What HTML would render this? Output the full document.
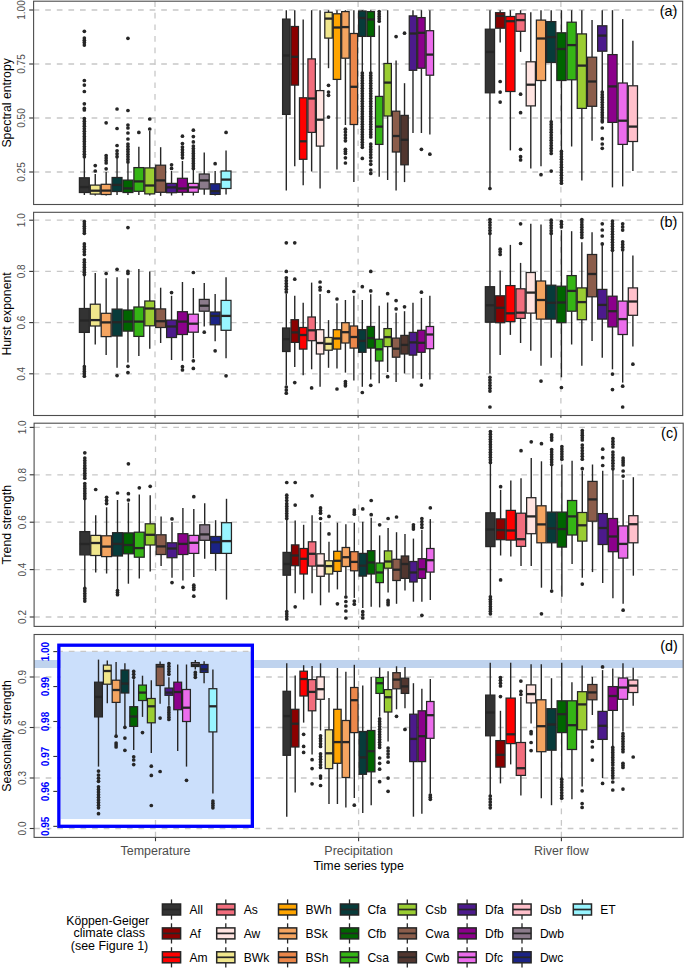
<!DOCTYPE html>
<html><head><meta charset="utf-8"><style>
html,body{margin:0;padding:0;background:#fff;width:685px;height:968px;overflow:hidden;font-family:"Liberation Sans",sans-serif;}
svg{display:block;}
</style></head><body>
<svg width="685" height="968" viewBox="0 0 685 968" font-family="'Liberation Sans', sans-serif">
<rect width="685" height="968" fill="#ffffff"/>
<line x1="33.6" y1="10" x2="682.6" y2="10" stroke="#c8c8c8" stroke-width="1.3" stroke-dasharray="5.7 5.9"/>
<line x1="33.6" y1="64" x2="682.6" y2="64" stroke="#c8c8c8" stroke-width="1.3" stroke-dasharray="5.7 5.9"/>
<line x1="33.6" y1="118" x2="682.6" y2="118" stroke="#c8c8c8" stroke-width="1.3" stroke-dasharray="5.7 5.9"/>
<line x1="33.6" y1="172" x2="682.6" y2="172" stroke="#c8c8c8" stroke-width="1.3" stroke-dasharray="5.7 5.9"/>
<line x1="155" y1="1.2" x2="155" y2="204.5" stroke="#c8c8c8" stroke-width="1.3" stroke-dasharray="5.7 5.9"/>
<line x1="358.1" y1="1.2" x2="358.1" y2="204.5" stroke="#c8c8c8" stroke-width="1.3" stroke-dasharray="5.7 5.9"/>
<line x1="560.9" y1="1.2" x2="560.9" y2="204.5" stroke="#c8c8c8" stroke-width="1.3" stroke-dasharray="5.7 5.9"/>
<line x1="29.2" y1="10" x2="33.6" y2="10" stroke="#333333" stroke-width="1.1"/>
<text transform="translate(25.3 10) rotate(-90)" text-anchor="middle" font-size="10" fill="#4d4d4d">1.00</text>
<line x1="29.2" y1="64" x2="33.6" y2="64" stroke="#333333" stroke-width="1.1"/>
<text transform="translate(25.3 64) rotate(-90)" text-anchor="middle" font-size="10" fill="#4d4d4d">0.75</text>
<line x1="29.2" y1="118" x2="33.6" y2="118" stroke="#333333" stroke-width="1.1"/>
<text transform="translate(25.3 118) rotate(-90)" text-anchor="middle" font-size="10" fill="#4d4d4d">0.50</text>
<line x1="29.2" y1="172" x2="33.6" y2="172" stroke="#333333" stroke-width="1.1"/>
<text transform="translate(25.3 172) rotate(-90)" text-anchor="middle" font-size="10" fill="#4d4d4d">0.25</text>
<line x1="155" y1="204.5" x2="155" y2="206.7" stroke="#333333" stroke-width="1.1"/>
<line x1="358.1" y1="204.5" x2="358.1" y2="206.7" stroke="#333333" stroke-width="1.1"/>
<line x1="560.9" y1="204.5" x2="560.9" y2="206.7" stroke="#333333" stroke-width="1.1"/>
<text transform="translate(10.8 102.85) rotate(-90)" text-anchor="middle" font-size="12.3" fill="#000000">Spectral entropy</text>
<line x1="33.6" y1="220.2" x2="682.6" y2="220.2" stroke="#c8c8c8" stroke-width="1.3" stroke-dasharray="5.7 5.9"/>
<line x1="33.6" y1="271.4" x2="682.6" y2="271.4" stroke="#c8c8c8" stroke-width="1.3" stroke-dasharray="5.7 5.9"/>
<line x1="33.6" y1="322.6" x2="682.6" y2="322.6" stroke="#c8c8c8" stroke-width="1.3" stroke-dasharray="5.7 5.9"/>
<line x1="33.6" y1="373.8" x2="682.6" y2="373.8" stroke="#c8c8c8" stroke-width="1.3" stroke-dasharray="5.7 5.9"/>
<line x1="155" y1="212.3" x2="155" y2="415.5" stroke="#c8c8c8" stroke-width="1.3" stroke-dasharray="5.7 5.9"/>
<line x1="358.1" y1="212.3" x2="358.1" y2="415.5" stroke="#c8c8c8" stroke-width="1.3" stroke-dasharray="5.7 5.9"/>
<line x1="560.9" y1="212.3" x2="560.9" y2="415.5" stroke="#c8c8c8" stroke-width="1.3" stroke-dasharray="5.7 5.9"/>
<line x1="29.2" y1="220.2" x2="33.6" y2="220.2" stroke="#333333" stroke-width="1.1"/>
<text transform="translate(25.3 220.2) rotate(-90)" text-anchor="middle" font-size="10" fill="#4d4d4d">1.0</text>
<line x1="29.2" y1="271.4" x2="33.6" y2="271.4" stroke="#333333" stroke-width="1.1"/>
<text transform="translate(25.3 271.4) rotate(-90)" text-anchor="middle" font-size="10" fill="#4d4d4d">0.8</text>
<line x1="29.2" y1="322.6" x2="33.6" y2="322.6" stroke="#333333" stroke-width="1.1"/>
<text transform="translate(25.3 322.6) rotate(-90)" text-anchor="middle" font-size="10" fill="#4d4d4d">0.6</text>
<line x1="29.2" y1="373.8" x2="33.6" y2="373.8" stroke="#333333" stroke-width="1.1"/>
<text transform="translate(25.3 373.8) rotate(-90)" text-anchor="middle" font-size="10" fill="#4d4d4d">0.4</text>
<line x1="155" y1="415.5" x2="155" y2="417.7" stroke="#333333" stroke-width="1.1"/>
<line x1="358.1" y1="415.5" x2="358.1" y2="417.7" stroke="#333333" stroke-width="1.1"/>
<line x1="560.9" y1="415.5" x2="560.9" y2="417.7" stroke="#333333" stroke-width="1.1"/>
<text transform="translate(10.8 313.9) rotate(-90)" text-anchor="middle" font-size="12.3" fill="#000000">Hurst exponent</text>
<line x1="34.1" y1="427.4" x2="683.1" y2="427.4" stroke="#c8c8c8" stroke-width="1.3" stroke-dasharray="5.7 5.9"/>
<line x1="34.1" y1="474.8" x2="683.1" y2="474.8" stroke="#c8c8c8" stroke-width="1.3" stroke-dasharray="5.7 5.9"/>
<line x1="34.1" y1="522.2" x2="683.1" y2="522.2" stroke="#c8c8c8" stroke-width="1.3" stroke-dasharray="5.7 5.9"/>
<line x1="34.1" y1="569.6" x2="683.1" y2="569.6" stroke="#c8c8c8" stroke-width="1.3" stroke-dasharray="5.7 5.9"/>
<line x1="34.1" y1="617" x2="683.1" y2="617" stroke="#c8c8c8" stroke-width="1.3" stroke-dasharray="5.7 5.9"/>
<line x1="155.5" y1="423.2" x2="155.5" y2="626.4" stroke="#c8c8c8" stroke-width="1.3" stroke-dasharray="5.7 5.9"/>
<line x1="358.6" y1="423.2" x2="358.6" y2="626.4" stroke="#c8c8c8" stroke-width="1.3" stroke-dasharray="5.7 5.9"/>
<line x1="561.4" y1="423.2" x2="561.4" y2="626.4" stroke="#c8c8c8" stroke-width="1.3" stroke-dasharray="5.7 5.9"/>
<line x1="29.7" y1="427.4" x2="34.1" y2="427.4" stroke="#333333" stroke-width="1.1"/>
<text transform="translate(25.8 427.4) rotate(-90)" text-anchor="middle" font-size="10" fill="#4d4d4d">1.0</text>
<line x1="29.7" y1="474.8" x2="34.1" y2="474.8" stroke="#333333" stroke-width="1.1"/>
<text transform="translate(25.8 474.8) rotate(-90)" text-anchor="middle" font-size="10" fill="#4d4d4d">0.8</text>
<line x1="29.7" y1="522.2" x2="34.1" y2="522.2" stroke="#333333" stroke-width="1.1"/>
<text transform="translate(25.8 522.2) rotate(-90)" text-anchor="middle" font-size="10" fill="#4d4d4d">0.6</text>
<line x1="29.7" y1="569.6" x2="34.1" y2="569.6" stroke="#333333" stroke-width="1.1"/>
<text transform="translate(25.8 569.6) rotate(-90)" text-anchor="middle" font-size="10" fill="#4d4d4d">0.4</text>
<line x1="29.7" y1="617" x2="34.1" y2="617" stroke="#333333" stroke-width="1.1"/>
<text transform="translate(25.8 617) rotate(-90)" text-anchor="middle" font-size="10" fill="#4d4d4d">0.2</text>
<line x1="155.5" y1="626.4" x2="155.5" y2="628.6" stroke="#333333" stroke-width="1.1"/>
<line x1="358.6" y1="626.4" x2="358.6" y2="628.6" stroke="#333333" stroke-width="1.1"/>
<line x1="561.4" y1="626.4" x2="561.4" y2="628.6" stroke="#333333" stroke-width="1.1"/>
<text transform="translate(10.8 524.8) rotate(-90)" text-anchor="middle" font-size="12.3" fill="#000000">Trend strength</text>
<line x1="34.1" y1="677" x2="683.1" y2="677" stroke="#c8c8c8" stroke-width="1.3" stroke-dasharray="5.7 5.9"/>
<line x1="34.1" y1="727.5" x2="683.1" y2="727.5" stroke="#c8c8c8" stroke-width="1.3" stroke-dasharray="5.7 5.9"/>
<line x1="34.1" y1="778" x2="683.1" y2="778" stroke="#c8c8c8" stroke-width="1.3" stroke-dasharray="5.7 5.9"/>
<line x1="34.1" y1="828.5" x2="683.1" y2="828.5" stroke="#c8c8c8" stroke-width="1.3" stroke-dasharray="5.7 5.9"/>
<line x1="155.5" y1="634.5" x2="155.5" y2="837.4" stroke="#c8c8c8" stroke-width="1.3" stroke-dasharray="5.7 5.9"/>
<line x1="358.6" y1="634.5" x2="358.6" y2="837.4" stroke="#c8c8c8" stroke-width="1.3" stroke-dasharray="5.7 5.9"/>
<line x1="561.4" y1="634.5" x2="561.4" y2="837.4" stroke="#c8c8c8" stroke-width="1.3" stroke-dasharray="5.7 5.9"/>
<rect x="34.1" y="660" width="649" height="8" fill="#bfd3ee"/>
<line x1="29.7" y1="677" x2="34.1" y2="677" stroke="#333333" stroke-width="1.1"/>
<text transform="translate(25.8 677) rotate(-90)" text-anchor="middle" font-size="10" fill="#4d4d4d">0.9</text>
<line x1="29.7" y1="727.5" x2="34.1" y2="727.5" stroke="#333333" stroke-width="1.1"/>
<text transform="translate(25.8 727.5) rotate(-90)" text-anchor="middle" font-size="10" fill="#4d4d4d">0.6</text>
<line x1="29.7" y1="778" x2="34.1" y2="778" stroke="#333333" stroke-width="1.1"/>
<text transform="translate(25.8 778) rotate(-90)" text-anchor="middle" font-size="10" fill="#4d4d4d">0.3</text>
<line x1="29.7" y1="828.5" x2="34.1" y2="828.5" stroke="#333333" stroke-width="1.1"/>
<text transform="translate(25.8 828.5) rotate(-90)" text-anchor="middle" font-size="10" fill="#4d4d4d">0.0</text>
<line x1="155.5" y1="837.4" x2="155.5" y2="841.2" stroke="#333333" stroke-width="1.1"/>
<line x1="358.6" y1="837.4" x2="358.6" y2="841.2" stroke="#333333" stroke-width="1.1"/>
<line x1="561.4" y1="837.4" x2="561.4" y2="841.2" stroke="#333333" stroke-width="1.1"/>
<text transform="translate(10.8 735.95) rotate(-90)" text-anchor="middle" font-size="12.3" fill="#000000">Seasonality strength</text>
<circle cx="84.35" cy="31.3" r="1.85" fill="#262626"/>
<circle cx="84.35" cy="38" r="1.85" fill="#262626"/>
<circle cx="84.35" cy="40.2" r="1.85" fill="#262626"/>
<circle cx="84.35" cy="42.4" r="1.85" fill="#262626"/>
<circle cx="84.35" cy="45.1" r="1.85" fill="#262626"/>
<circle cx="84.35" cy="80.5" r="1.85" fill="#262626"/>
<circle cx="84.35" cy="85.1" r="1.85" fill="#262626"/>
<circle cx="84.35" cy="91.5" r="1.85" fill="#262626"/>
<circle cx="84.35" cy="103.8" r="1.85" fill="#262626"/>
<circle cx="84.35" cy="108.4" r="1.85" fill="#262626"/>
<circle cx="84.35" cy="110" r="1.85" fill="#262626"/>
<circle cx="84.35" cy="118.6" r="1.85" fill="#262626"/>
<circle cx="84.35" cy="121.14" r="1.85" fill="#262626"/>
<circle cx="84.35" cy="123.68" r="1.85" fill="#262626"/>
<circle cx="84.35" cy="126.22" r="1.85" fill="#262626"/>
<circle cx="84.35" cy="128.76" r="1.85" fill="#262626"/>
<circle cx="84.35" cy="131.3" r="1.85" fill="#262626"/>
<circle cx="84.35" cy="133.84" r="1.85" fill="#262626"/>
<circle cx="84.35" cy="136.38" r="1.85" fill="#262626"/>
<circle cx="84.35" cy="138.92" r="1.85" fill="#262626"/>
<circle cx="84.35" cy="141.46" r="1.85" fill="#262626"/>
<circle cx="84.35" cy="144" r="1.85" fill="#262626"/>
<circle cx="84.35" cy="146.54" r="1.85" fill="#262626"/>
<circle cx="84.35" cy="149.08" r="1.85" fill="#262626"/>
<circle cx="84.35" cy="151.62" r="1.85" fill="#262626"/>
<circle cx="84.35" cy="154.16" r="1.85" fill="#262626"/>
<circle cx="84.35" cy="156.7" r="1.85" fill="#262626"/>
<line x1="84.35" y1="156.7" x2="84.35" y2="177.8" stroke="#262626" stroke-width="1.4"/>
<line x1="84.35" y1="192.5" x2="84.35" y2="195" stroke="#262626" stroke-width="1.4"/>
<rect x="79.4" y="177.8" width="9.9" height="14.7" fill="#333333" stroke="#262626" stroke-width="1.25"/>
<line x1="79.4" y1="187.1" x2="89.3" y2="187.1" stroke="#262626" stroke-width="2.3"/>
<circle cx="95.25" cy="165.6" r="1.85" fill="#262626"/>
<circle cx="95.25" cy="171" r="1.85" fill="#262626"/>
<line x1="95.25" y1="174" x2="95.25" y2="185.1" stroke="#262626" stroke-width="1.4"/>
<line x1="95.25" y1="194.1" x2="95.25" y2="195.5" stroke="#262626" stroke-width="1.4"/>
<rect x="90.3" y="185.1" width="9.9" height="9" fill="#f0e68c" stroke="#262626" stroke-width="1.25"/>
<line x1="90.3" y1="190.7" x2="100.2" y2="190.7" stroke="#262626" stroke-width="2.3"/>
<circle cx="106.15" cy="122.8" r="1.85" fill="#262626"/>
<circle cx="106.15" cy="155.6" r="1.85" fill="#262626"/>
<circle cx="106.15" cy="158.07" r="1.85" fill="#262626"/>
<circle cx="106.15" cy="160.53" r="1.85" fill="#262626"/>
<circle cx="106.15" cy="163" r="1.85" fill="#262626"/>
<circle cx="106.15" cy="168.8" r="1.85" fill="#262626"/>
<line x1="106.15" y1="172" x2="106.15" y2="184.3" stroke="#262626" stroke-width="1.4"/>
<line x1="106.15" y1="194.5" x2="106.15" y2="195.5" stroke="#262626" stroke-width="1.4"/>
<rect x="101.2" y="184.3" width="9.9" height="10.2" fill="#f4a460" stroke="#262626" stroke-width="1.25"/>
<line x1="101.2" y1="190.6" x2="111.1" y2="190.6" stroke="#262626" stroke-width="2.3"/>
<circle cx="117.05" cy="109" r="1.85" fill="#262626"/>
<circle cx="117.05" cy="128.5" r="1.85" fill="#262626"/>
<circle cx="117.05" cy="145.5" r="1.85" fill="#262626"/>
<circle cx="117.05" cy="150.8" r="1.85" fill="#262626"/>
<circle cx="117.05" cy="153.75" r="1.85" fill="#262626"/>
<circle cx="117.05" cy="156.7" r="1.85" fill="#262626"/>
<line x1="117.05" y1="157.8" x2="117.05" y2="177.5" stroke="#262626" stroke-width="1.4"/>
<line x1="117.05" y1="191.5" x2="117.05" y2="195" stroke="#262626" stroke-width="1.4"/>
<rect x="112.1" y="177.5" width="9.9" height="14" fill="#073b3a" stroke="#262626" stroke-width="1.25"/>
<line x1="112.1" y1="184.9" x2="122" y2="184.9" stroke="#262626" stroke-width="2.3"/>
<circle cx="127.95" cy="38.3" r="1.85" fill="#262626"/>
<circle cx="127.95" cy="110.5" r="1.85" fill="#262626"/>
<circle cx="127.95" cy="125" r="1.85" fill="#262626"/>
<circle cx="127.95" cy="128" r="1.85" fill="#262626"/>
<circle cx="127.95" cy="133" r="1.85" fill="#262626"/>
<circle cx="127.95" cy="139" r="1.85" fill="#262626"/>
<circle cx="127.95" cy="144" r="1.85" fill="#262626"/>
<circle cx="127.95" cy="146.57" r="1.85" fill="#262626"/>
<circle cx="127.95" cy="149.14" r="1.85" fill="#262626"/>
<circle cx="127.95" cy="151.71" r="1.85" fill="#262626"/>
<circle cx="127.95" cy="154.29" r="1.85" fill="#262626"/>
<circle cx="127.95" cy="156.86" r="1.85" fill="#262626"/>
<circle cx="127.95" cy="159.43" r="1.85" fill="#262626"/>
<circle cx="127.95" cy="162" r="1.85" fill="#262626"/>
<line x1="127.95" y1="163" x2="127.95" y2="180.1" stroke="#262626" stroke-width="1.4"/>
<line x1="127.95" y1="192.5" x2="127.95" y2="195" stroke="#262626" stroke-width="1.4"/>
<rect x="123" y="180.1" width="9.9" height="12.4" fill="#006400" stroke="#262626" stroke-width="1.25"/>
<line x1="123" y1="188.4" x2="132.9" y2="188.4" stroke="#262626" stroke-width="2.3"/>
<circle cx="138.85" cy="132.4" r="1.85" fill="#262626"/>
<line x1="138.85" y1="146.8" x2="138.85" y2="167.6" stroke="#262626" stroke-width="1.4"/>
<line x1="138.85" y1="191.3" x2="138.85" y2="195" stroke="#262626" stroke-width="1.4"/>
<rect x="133.9" y="167.6" width="9.9" height="23.7" fill="#35b515" stroke="#262626" stroke-width="1.25"/>
<line x1="133.9" y1="181.4" x2="143.8" y2="181.4" stroke="#262626" stroke-width="2.3"/>
<circle cx="149.75" cy="119" r="1.85" fill="#262626"/>
<circle cx="149.75" cy="129" r="1.85" fill="#262626"/>
<line x1="149.75" y1="131" x2="149.75" y2="167.9" stroke="#262626" stroke-width="1.4"/>
<line x1="149.75" y1="193.9" x2="149.75" y2="195.5" stroke="#262626" stroke-width="1.4"/>
<rect x="144.8" y="167.9" width="9.9" height="26" fill="#9acd32" stroke="#262626" stroke-width="1.25"/>
<line x1="144.8" y1="185.5" x2="154.7" y2="185.5" stroke="#262626" stroke-width="2.3"/>
<line x1="160.65" y1="147.2" x2="160.65" y2="165.2" stroke="#262626" stroke-width="1.4"/>
<line x1="160.65" y1="192.3" x2="160.65" y2="195.9" stroke="#262626" stroke-width="1.4"/>
<rect x="155.7" y="165.2" width="9.9" height="27.1" fill="#8b5d4b" stroke="#262626" stroke-width="1.25"/>
<line x1="155.7" y1="180.4" x2="165.6" y2="180.4" stroke="#262626" stroke-width="2.3"/>
<circle cx="171.55" cy="164.8" r="1.85" fill="#262626"/>
<circle cx="171.55" cy="168.4" r="1.85" fill="#262626"/>
<line x1="171.55" y1="171" x2="171.55" y2="183.4" stroke="#262626" stroke-width="1.4"/>
<line x1="171.55" y1="192.7" x2="171.55" y2="195.5" stroke="#262626" stroke-width="1.4"/>
<rect x="166.6" y="183.4" width="9.9" height="9.3" fill="#4c1a8c" stroke="#262626" stroke-width="1.25"/>
<line x1="166.6" y1="187.4" x2="176.5" y2="187.4" stroke="#262626" stroke-width="2.3"/>
<circle cx="182.45" cy="136.2" r="1.85" fill="#262626"/>
<circle cx="182.45" cy="143.6" r="1.85" fill="#262626"/>
<circle cx="182.45" cy="147" r="1.85" fill="#262626"/>
<circle cx="182.45" cy="149.7" r="1.85" fill="#262626"/>
<circle cx="182.45" cy="152.4" r="1.85" fill="#262626"/>
<circle cx="182.45" cy="155.1" r="1.85" fill="#262626"/>
<circle cx="182.45" cy="157.8" r="1.85" fill="#262626"/>
<line x1="182.45" y1="161" x2="182.45" y2="178.3" stroke="#262626" stroke-width="1.4"/>
<line x1="182.45" y1="192.3" x2="182.45" y2="195.5" stroke="#262626" stroke-width="1.4"/>
<rect x="177.5" y="178.3" width="9.9" height="14" fill="#8b008b" stroke="#262626" stroke-width="1.25"/>
<line x1="177.5" y1="188.5" x2="187.4" y2="188.5" stroke="#262626" stroke-width="2.3"/>
<circle cx="193.35" cy="130.2" r="1.85" fill="#262626"/>
<circle cx="193.35" cy="136.6" r="1.85" fill="#262626"/>
<circle cx="193.35" cy="141.9" r="1.85" fill="#262626"/>
<circle cx="193.35" cy="146" r="1.85" fill="#262626"/>
<circle cx="193.35" cy="148.49" r="1.85" fill="#262626"/>
<circle cx="193.35" cy="150.98" r="1.85" fill="#262626"/>
<circle cx="193.35" cy="153.47" r="1.85" fill="#262626"/>
<circle cx="193.35" cy="155.96" r="1.85" fill="#262626"/>
<circle cx="193.35" cy="158.44" r="1.85" fill="#262626"/>
<circle cx="193.35" cy="160.93" r="1.85" fill="#262626"/>
<circle cx="193.35" cy="163.42" r="1.85" fill="#262626"/>
<circle cx="193.35" cy="165.91" r="1.85" fill="#262626"/>
<circle cx="193.35" cy="168.4" r="1.85" fill="#262626"/>
<line x1="193.35" y1="169.4" x2="193.35" y2="183.4" stroke="#262626" stroke-width="1.4"/>
<line x1="193.35" y1="192.3" x2="193.35" y2="195.5" stroke="#262626" stroke-width="1.4"/>
<rect x="188.4" y="183.4" width="9.9" height="8.9" fill="#ec6cec" stroke="#262626" stroke-width="1.25"/>
<line x1="188.4" y1="187.4" x2="198.3" y2="187.4" stroke="#262626" stroke-width="2.3"/>
<line x1="204.25" y1="152.5" x2="204.25" y2="174" stroke="#262626" stroke-width="1.4"/>
<line x1="204.25" y1="189" x2="204.25" y2="194.8" stroke="#262626" stroke-width="1.4"/>
<rect x="199.3" y="174" width="9.9" height="15" fill="#8b7b8b" stroke="#262626" stroke-width="1.25"/>
<line x1="199.3" y1="180.4" x2="209.2" y2="180.4" stroke="#262626" stroke-width="2.3"/>
<circle cx="215.15" cy="163.7" r="1.85" fill="#262626"/>
<line x1="215.15" y1="171" x2="215.15" y2="183.8" stroke="#262626" stroke-width="1.4"/>
<line x1="215.15" y1="194.4" x2="215.15" y2="195.5" stroke="#262626" stroke-width="1.4"/>
<rect x="210.2" y="183.8" width="9.9" height="10.6" fill="#1b2386" stroke="#262626" stroke-width="1.25"/>
<line x1="210.2" y1="191.2" x2="220.1" y2="191.2" stroke="#262626" stroke-width="2.3"/>
<circle cx="226.05" cy="132.4" r="1.85" fill="#262626"/>
<line x1="226.05" y1="150.4" x2="226.05" y2="171" stroke="#262626" stroke-width="1.4"/>
<line x1="226.05" y1="188.5" x2="226.05" y2="194.4" stroke="#262626" stroke-width="1.4"/>
<rect x="221.1" y="171" width="9.9" height="17.5" fill="#98f5ff" stroke="#262626" stroke-width="1.25"/>
<line x1="221.1" y1="179.6" x2="231" y2="179.6" stroke="#262626" stroke-width="2.3"/>
<line x1="286.3" y1="10.2" x2="286.3" y2="19.1" stroke="#262626" stroke-width="1.4"/>
<line x1="286.3" y1="114.4" x2="286.3" y2="190.6" stroke="#262626" stroke-width="1.4"/>
<rect x="282.58" y="19.1" width="7.45" height="95.3" fill="#333333" stroke="#262626" stroke-width="1.25"/>
<line x1="282.58" y1="55.5" x2="290.02" y2="55.5" stroke="#262626" stroke-width="2.3"/>
<line x1="294.75" y1="10.2" x2="294.75" y2="26.5" stroke="#262626" stroke-width="1.4"/>
<line x1="294.75" y1="85.1" x2="294.75" y2="166.2" stroke="#262626" stroke-width="1.4"/>
<rect x="291.02" y="26.5" width="7.45" height="58.6" fill="#8b0000" stroke="#262626" stroke-width="1.25"/>
<line x1="291.02" y1="56.8" x2="298.47" y2="56.8" stroke="#262626" stroke-width="2.3"/>
<line x1="303.19" y1="19.5" x2="303.19" y2="97.8" stroke="#262626" stroke-width="1.4"/>
<line x1="303.19" y1="159.3" x2="303.19" y2="185.3" stroke="#262626" stroke-width="1.4"/>
<rect x="299.47" y="97.8" width="7.45" height="61.5" fill="#ff0000" stroke="#262626" stroke-width="1.25"/>
<line x1="299.47" y1="141.3" x2="306.91" y2="141.3" stroke="#262626" stroke-width="2.3"/>
<line x1="311.63" y1="10.2" x2="311.63" y2="58.9" stroke="#262626" stroke-width="1.4"/>
<line x1="311.63" y1="132.4" x2="311.63" y2="171.5" stroke="#262626" stroke-width="1.4"/>
<rect x="307.91" y="58.9" width="7.45" height="73.5" fill="#f26d7d" stroke="#262626" stroke-width="1.25"/>
<line x1="307.91" y1="98.5" x2="315.36" y2="98.5" stroke="#262626" stroke-width="2.3"/>
<line x1="320.08" y1="10.2" x2="320.08" y2="90.6" stroke="#262626" stroke-width="1.4"/>
<line x1="320.08" y1="146.1" x2="320.08" y2="188.5" stroke="#262626" stroke-width="1.4"/>
<rect x="316.36" y="90.6" width="7.45" height="55.5" fill="#ffe4e1" stroke="#262626" stroke-width="1.25"/>
<line x1="316.36" y1="119.7" x2="323.8" y2="119.7" stroke="#262626" stroke-width="2.3"/>
<circle cx="328.53" cy="85.3" r="1.85" fill="#262626"/>
<circle cx="328.53" cy="92.1" r="1.85" fill="#262626"/>
<circle cx="328.53" cy="95.3" r="1.85" fill="#262626"/>
<circle cx="328.53" cy="117.1" r="1.85" fill="#262626"/>
<line x1="328.53" y1="10.2" x2="328.53" y2="12.3" stroke="#262626" stroke-width="1.4"/>
<line x1="328.53" y1="38.1" x2="328.53" y2="68.2" stroke="#262626" stroke-width="1.4"/>
<rect x="324.8" y="12.3" width="7.45" height="25.8" fill="#f0e68c" stroke="#262626" stroke-width="1.25"/>
<line x1="324.8" y1="18.6" x2="332.25" y2="18.6" stroke="#262626" stroke-width="2.3"/>
<line x1="336.97" y1="10.2" x2="336.97" y2="13.8" stroke="#262626" stroke-width="1.4"/>
<line x1="336.97" y1="79.4" x2="336.97" y2="169.4" stroke="#262626" stroke-width="1.4"/>
<rect x="333.25" y="13.8" width="7.45" height="65.6" fill="#ffa500" stroke="#262626" stroke-width="1.25"/>
<line x1="333.25" y1="27.5" x2="340.69" y2="27.5" stroke="#262626" stroke-width="2.3"/>
<circle cx="345.42" cy="129.2" r="1.85" fill="#262626"/>
<circle cx="345.42" cy="132.1" r="1.85" fill="#262626"/>
<circle cx="345.42" cy="135" r="1.85" fill="#262626"/>
<circle cx="345.42" cy="137.9" r="1.85" fill="#262626"/>
<circle cx="345.42" cy="140.8" r="1.85" fill="#262626"/>
<circle cx="345.42" cy="149.3" r="1.85" fill="#262626"/>
<circle cx="345.42" cy="151.4" r="1.85" fill="#262626"/>
<circle cx="345.42" cy="153.5" r="1.85" fill="#262626"/>
<circle cx="345.42" cy="157.8" r="1.85" fill="#262626"/>
<circle cx="345.42" cy="163" r="1.85" fill="#262626"/>
<line x1="345.42" y1="10.2" x2="345.42" y2="11.6" stroke="#262626" stroke-width="1.4"/>
<line x1="345.42" y1="58.2" x2="345.42" y2="125" stroke="#262626" stroke-width="1.4"/>
<rect x="341.69" y="11.6" width="7.45" height="46.6" fill="#f4a460" stroke="#262626" stroke-width="1.25"/>
<line x1="341.69" y1="27.1" x2="349.14" y2="27.1" stroke="#262626" stroke-width="2.3"/>
<line x1="353.86" y1="10.2" x2="353.86" y2="33.5" stroke="#262626" stroke-width="1.4"/>
<line x1="353.86" y1="124.5" x2="353.86" y2="182.1" stroke="#262626" stroke-width="1.4"/>
<rect x="350.14" y="33.5" width="7.45" height="91" fill="#ec874a" stroke="#262626" stroke-width="1.25"/>
<line x1="350.14" y1="86.8" x2="357.58" y2="86.8" stroke="#262626" stroke-width="2.3"/>
<circle cx="362.31" cy="73" r="1.85" fill="#262626"/>
<circle cx="362.31" cy="75.56" r="1.85" fill="#262626"/>
<circle cx="362.31" cy="78.12" r="1.85" fill="#262626"/>
<circle cx="362.31" cy="80.69" r="1.85" fill="#262626"/>
<circle cx="362.31" cy="83.25" r="1.85" fill="#262626"/>
<circle cx="362.31" cy="85.81" r="1.85" fill="#262626"/>
<circle cx="362.31" cy="88.37" r="1.85" fill="#262626"/>
<circle cx="362.31" cy="90.93" r="1.85" fill="#262626"/>
<circle cx="362.31" cy="93.5" r="1.85" fill="#262626"/>
<circle cx="362.31" cy="96.06" r="1.85" fill="#262626"/>
<circle cx="362.31" cy="98.62" r="1.85" fill="#262626"/>
<circle cx="362.31" cy="101.18" r="1.85" fill="#262626"/>
<circle cx="362.31" cy="103.74" r="1.85" fill="#262626"/>
<circle cx="362.31" cy="106.31" r="1.85" fill="#262626"/>
<circle cx="362.31" cy="108.87" r="1.85" fill="#262626"/>
<circle cx="362.31" cy="111.43" r="1.85" fill="#262626"/>
<circle cx="362.31" cy="113.99" r="1.85" fill="#262626"/>
<circle cx="362.31" cy="116.56" r="1.85" fill="#262626"/>
<circle cx="362.31" cy="119.12" r="1.85" fill="#262626"/>
<circle cx="362.31" cy="121.68" r="1.85" fill="#262626"/>
<circle cx="362.31" cy="124.24" r="1.85" fill="#262626"/>
<circle cx="362.31" cy="126.8" r="1.85" fill="#262626"/>
<circle cx="362.31" cy="129.37" r="1.85" fill="#262626"/>
<circle cx="362.31" cy="131.93" r="1.85" fill="#262626"/>
<circle cx="362.31" cy="134.49" r="1.85" fill="#262626"/>
<circle cx="362.31" cy="137.05" r="1.85" fill="#262626"/>
<circle cx="362.31" cy="139.61" r="1.85" fill="#262626"/>
<circle cx="362.31" cy="142.18" r="1.85" fill="#262626"/>
<circle cx="362.31" cy="144.74" r="1.85" fill="#262626"/>
<circle cx="362.31" cy="147.3" r="1.85" fill="#262626"/>
<circle cx="362.31" cy="158.4" r="1.85" fill="#262626"/>
<line x1="362.31" y1="10.2" x2="362.31" y2="11" stroke="#262626" stroke-width="1.4"/>
<line x1="362.31" y1="36.4" x2="362.31" y2="72" stroke="#262626" stroke-width="1.4"/>
<rect x="358.58" y="11" width="7.45" height="25.4" fill="#073b3a" stroke="#262626" stroke-width="1.25"/>
<line x1="358.58" y1="18" x2="366.03" y2="18" stroke="#262626" stroke-width="2.3"/>
<circle cx="370.75" cy="73" r="1.85" fill="#262626"/>
<circle cx="370.75" cy="75.56" r="1.85" fill="#262626"/>
<circle cx="370.75" cy="78.12" r="1.85" fill="#262626"/>
<circle cx="370.75" cy="80.68" r="1.85" fill="#262626"/>
<circle cx="370.75" cy="83.24" r="1.85" fill="#262626"/>
<circle cx="370.75" cy="85.8" r="1.85" fill="#262626"/>
<circle cx="370.75" cy="88.36" r="1.85" fill="#262626"/>
<circle cx="370.75" cy="90.92" r="1.85" fill="#262626"/>
<circle cx="370.75" cy="93.48" r="1.85" fill="#262626"/>
<circle cx="370.75" cy="96.04" r="1.85" fill="#262626"/>
<circle cx="370.75" cy="98.6" r="1.85" fill="#262626"/>
<circle cx="370.75" cy="101.16" r="1.85" fill="#262626"/>
<circle cx="370.75" cy="103.72" r="1.85" fill="#262626"/>
<circle cx="370.75" cy="106.28" r="1.85" fill="#262626"/>
<circle cx="370.75" cy="108.84" r="1.85" fill="#262626"/>
<circle cx="370.75" cy="111.4" r="1.85" fill="#262626"/>
<circle cx="370.75" cy="113.96" r="1.85" fill="#262626"/>
<circle cx="370.75" cy="116.52" r="1.85" fill="#262626"/>
<circle cx="370.75" cy="119.08" r="1.85" fill="#262626"/>
<circle cx="370.75" cy="121.64" r="1.85" fill="#262626"/>
<circle cx="370.75" cy="124.2" r="1.85" fill="#262626"/>
<circle cx="370.75" cy="126.76" r="1.85" fill="#262626"/>
<circle cx="370.75" cy="129.32" r="1.85" fill="#262626"/>
<circle cx="370.75" cy="131.88" r="1.85" fill="#262626"/>
<circle cx="370.75" cy="134.44" r="1.85" fill="#262626"/>
<circle cx="370.75" cy="137" r="1.85" fill="#262626"/>
<circle cx="370.75" cy="144" r="1.85" fill="#262626"/>
<circle cx="370.75" cy="146.7" r="1.85" fill="#262626"/>
<circle cx="370.75" cy="149.4" r="1.85" fill="#262626"/>
<circle cx="370.75" cy="152.1" r="1.85" fill="#262626"/>
<circle cx="370.75" cy="154.8" r="1.85" fill="#262626"/>
<circle cx="370.75" cy="157.5" r="1.85" fill="#262626"/>
<circle cx="370.75" cy="161" r="1.85" fill="#262626"/>
<circle cx="370.75" cy="164.3" r="1.85" fill="#262626"/>
<circle cx="370.75" cy="170" r="1.85" fill="#262626"/>
<circle cx="370.75" cy="173.4" r="1.85" fill="#262626"/>
<line x1="370.75" y1="10.2" x2="370.75" y2="11.6" stroke="#262626" stroke-width="1.4"/>
<line x1="370.75" y1="36.4" x2="370.75" y2="72" stroke="#262626" stroke-width="1.4"/>
<rect x="367.03" y="11.6" width="7.45" height="24.8" fill="#006400" stroke="#262626" stroke-width="1.25"/>
<line x1="367.03" y1="19.5" x2="374.47" y2="19.5" stroke="#262626" stroke-width="2.3"/>
<circle cx="379.2" cy="11.6" r="1.85" fill="#262626"/>
<circle cx="379.2" cy="14" r="1.85" fill="#262626"/>
<circle cx="379.2" cy="16.4" r="1.85" fill="#262626"/>
<circle cx="379.2" cy="18.8" r="1.85" fill="#262626"/>
<circle cx="379.2" cy="21.2" r="1.85" fill="#262626"/>
<line x1="379.2" y1="25.4" x2="379.2" y2="96.4" stroke="#262626" stroke-width="1.4"/>
<line x1="379.2" y1="144.4" x2="379.2" y2="176.8" stroke="#262626" stroke-width="1.4"/>
<rect x="375.47" y="96.4" width="7.45" height="48" fill="#35b515" stroke="#262626" stroke-width="1.25"/>
<line x1="375.47" y1="126.6" x2="382.92" y2="126.6" stroke="#262626" stroke-width="2.3"/>
<line x1="387.64" y1="10.2" x2="387.64" y2="63.5" stroke="#262626" stroke-width="1.4"/>
<line x1="387.64" y1="116" x2="387.64" y2="180" stroke="#262626" stroke-width="1.4"/>
<rect x="383.92" y="63.5" width="7.45" height="52.5" fill="#9acd32" stroke="#262626" stroke-width="1.25"/>
<line x1="383.92" y1="82.6" x2="391.36" y2="82.6" stroke="#262626" stroke-width="2.3"/>
<circle cx="396.09" cy="36.6" r="1.85" fill="#262626"/>
<line x1="396.09" y1="60.4" x2="396.09" y2="111.2" stroke="#262626" stroke-width="1.4"/>
<line x1="396.09" y1="152" x2="396.09" y2="190.6" stroke="#262626" stroke-width="1.4"/>
<rect x="392.36" y="111.2" width="7.45" height="40.8" fill="#8b5d4b" stroke="#262626" stroke-width="1.25"/>
<line x1="392.36" y1="136" x2="399.81" y2="136" stroke="#262626" stroke-width="2.3"/>
<circle cx="404.53" cy="33.2" r="1.85" fill="#262626"/>
<line x1="404.53" y1="83.2" x2="404.53" y2="115.4" stroke="#262626" stroke-width="1.4"/>
<line x1="404.53" y1="164.8" x2="404.53" y2="182.1" stroke="#262626" stroke-width="1.4"/>
<rect x="400.81" y="115.4" width="7.45" height="49.4" fill="#51362f" stroke="#262626" stroke-width="1.25"/>
<line x1="400.81" y1="139.8" x2="408.25" y2="139.8" stroke="#262626" stroke-width="2.3"/>
<line x1="412.98" y1="10.2" x2="412.98" y2="15.9" stroke="#262626" stroke-width="1.4"/>
<line x1="412.98" y1="70.3" x2="412.98" y2="133" stroke="#262626" stroke-width="1.4"/>
<rect x="409.25" y="15.9" width="7.45" height="54.4" fill="#4c1a8c" stroke="#262626" stroke-width="1.25"/>
<line x1="409.25" y1="33.5" x2="416.7" y2="33.5" stroke="#262626" stroke-width="2.3"/>
<circle cx="421.42" cy="149.3" r="1.85" fill="#262626"/>
<line x1="421.42" y1="10.2" x2="421.42" y2="17.6" stroke="#262626" stroke-width="1.4"/>
<line x1="421.42" y1="68.2" x2="421.42" y2="133" stroke="#262626" stroke-width="1.4"/>
<rect x="417.7" y="17.6" width="7.45" height="50.6" fill="#8b008b" stroke="#262626" stroke-width="1.25"/>
<line x1="417.7" y1="32.8" x2="425.14" y2="32.8" stroke="#262626" stroke-width="2.3"/>
<circle cx="429.87" cy="154.2" r="1.85" fill="#262626"/>
<line x1="429.87" y1="10.2" x2="429.87" y2="30.7" stroke="#262626" stroke-width="1.4"/>
<line x1="429.87" y1="75.2" x2="429.87" y2="134.5" stroke="#262626" stroke-width="1.4"/>
<rect x="426.14" y="30.7" width="7.45" height="44.5" fill="#ec6cec" stroke="#262626" stroke-width="1.25"/>
<line x1="426.14" y1="54.6" x2="433.59" y2="54.6" stroke="#262626" stroke-width="2.3"/>
<circle cx="489.95" cy="188.5" r="1.85" fill="#262626"/>
<line x1="489.95" y1="10.2" x2="489.95" y2="29.2" stroke="#262626" stroke-width="1.4"/>
<line x1="489.95" y1="92.8" x2="489.95" y2="187.4" stroke="#262626" stroke-width="1.4"/>
<rect x="485.34" y="29.2" width="9.21" height="63.6" fill="#333333" stroke="#262626" stroke-width="1.25"/>
<line x1="485.34" y1="51.9" x2="494.55" y2="51.9" stroke="#262626" stroke-width="2.3"/>
<circle cx="500.16" cy="81.5" r="1.85" fill="#262626"/>
<circle cx="500.16" cy="92.1" r="1.85" fill="#262626"/>
<circle cx="500.16" cy="102.1" r="1.85" fill="#262626"/>
<line x1="500.16" y1="10.2" x2="500.16" y2="12.7" stroke="#262626" stroke-width="1.4"/>
<line x1="500.16" y1="28.2" x2="500.16" y2="42.4" stroke="#262626" stroke-width="1.4"/>
<rect x="495.55" y="12.7" width="9.21" height="15.5" fill="#8b0000" stroke="#262626" stroke-width="1.25"/>
<line x1="495.55" y1="15.9" x2="504.76" y2="15.9" stroke="#262626" stroke-width="2.3"/>
<line x1="510.37" y1="10.2" x2="510.37" y2="16.5" stroke="#262626" stroke-width="1.4"/>
<line x1="510.37" y1="91.5" x2="510.37" y2="150.4" stroke="#262626" stroke-width="1.4"/>
<rect x="505.76" y="16.5" width="9.21" height="75" fill="#ff0000" stroke="#262626" stroke-width="1.25"/>
<line x1="505.76" y1="21.2" x2="514.98" y2="21.2" stroke="#262626" stroke-width="2.3"/>
<circle cx="520.58" cy="94.2" r="1.85" fill="#262626"/>
<circle cx="520.58" cy="112.7" r="1.85" fill="#262626"/>
<circle cx="520.58" cy="149.3" r="1.85" fill="#262626"/>
<circle cx="520.58" cy="156.7" r="1.85" fill="#262626"/>
<circle cx="520.58" cy="159.9" r="1.85" fill="#262626"/>
<line x1="520.58" y1="10.2" x2="520.58" y2="13.8" stroke="#262626" stroke-width="1.4"/>
<line x1="520.58" y1="31.3" x2="520.58" y2="51.9" stroke="#262626" stroke-width="1.4"/>
<rect x="515.98" y="13.8" width="9.21" height="17.5" fill="#f26d7d" stroke="#262626" stroke-width="1.25"/>
<line x1="515.98" y1="20.1" x2="525.19" y2="20.1" stroke="#262626" stroke-width="2.3"/>
<line x1="530.79" y1="12.3" x2="530.79" y2="61.8" stroke="#262626" stroke-width="1.4"/>
<line x1="530.79" y1="105.9" x2="530.79" y2="168.4" stroke="#262626" stroke-width="1.4"/>
<rect x="526.18" y="61.8" width="9.21" height="44.1" fill="#ffe4e1" stroke="#262626" stroke-width="1.25"/>
<line x1="526.18" y1="84.7" x2="535.39" y2="84.7" stroke="#262626" stroke-width="2.3"/>
<circle cx="541" cy="174.7" r="1.85" fill="#262626"/>
<line x1="541" y1="10.2" x2="541" y2="20.1" stroke="#262626" stroke-width="1.4"/>
<line x1="541" y1="80.5" x2="541" y2="166.2" stroke="#262626" stroke-width="1.4"/>
<rect x="536.39" y="20.1" width="9.21" height="60.4" fill="#f4a460" stroke="#262626" stroke-width="1.25"/>
<line x1="536.39" y1="38.5" x2="545.61" y2="38.5" stroke="#262626" stroke-width="2.3"/>
<circle cx="551.21" cy="121.8" r="1.85" fill="#262626"/>
<circle cx="551.21" cy="124.44" r="1.85" fill="#262626"/>
<circle cx="551.21" cy="127.08" r="1.85" fill="#262626"/>
<circle cx="551.21" cy="129.72" r="1.85" fill="#262626"/>
<circle cx="551.21" cy="132.37" r="1.85" fill="#262626"/>
<circle cx="551.21" cy="135.01" r="1.85" fill="#262626"/>
<circle cx="551.21" cy="137.65" r="1.85" fill="#262626"/>
<circle cx="551.21" cy="140.29" r="1.85" fill="#262626"/>
<circle cx="551.21" cy="142.93" r="1.85" fill="#262626"/>
<circle cx="551.21" cy="145.57" r="1.85" fill="#262626"/>
<circle cx="551.21" cy="148.22" r="1.85" fill="#262626"/>
<circle cx="551.21" cy="150.86" r="1.85" fill="#262626"/>
<circle cx="551.21" cy="153.5" r="1.85" fill="#262626"/>
<circle cx="551.21" cy="171.1" r="1.85" fill="#262626"/>
<line x1="551.21" y1="10.2" x2="551.21" y2="21.6" stroke="#262626" stroke-width="1.4"/>
<line x1="551.21" y1="62.5" x2="551.21" y2="120.7" stroke="#262626" stroke-width="1.4"/>
<rect x="546.61" y="21.6" width="9.21" height="40.9" fill="#073b3a" stroke="#262626" stroke-width="1.25"/>
<line x1="546.61" y1="37.1" x2="555.82" y2="37.1" stroke="#262626" stroke-width="2.3"/>
<circle cx="561.42" cy="151.4" r="1.85" fill="#262626"/>
<circle cx="561.42" cy="154.05" r="1.85" fill="#262626"/>
<circle cx="561.42" cy="156.7" r="1.85" fill="#262626"/>
<circle cx="561.42" cy="159.35" r="1.85" fill="#262626"/>
<circle cx="561.42" cy="162" r="1.85" fill="#262626"/>
<circle cx="561.42" cy="164.65" r="1.85" fill="#262626"/>
<circle cx="561.42" cy="167.3" r="1.85" fill="#262626"/>
<circle cx="561.42" cy="169.95" r="1.85" fill="#262626"/>
<circle cx="561.42" cy="172.6" r="1.85" fill="#262626"/>
<circle cx="561.42" cy="175.25" r="1.85" fill="#262626"/>
<circle cx="561.42" cy="177.9" r="1.85" fill="#262626"/>
<circle cx="561.42" cy="180.55" r="1.85" fill="#262626"/>
<circle cx="561.42" cy="183.2" r="1.85" fill="#262626"/>
<line x1="561.42" y1="10.2" x2="561.42" y2="32.8" stroke="#262626" stroke-width="1.4"/>
<line x1="561.42" y1="80.5" x2="561.42" y2="150.4" stroke="#262626" stroke-width="1.4"/>
<rect x="556.81" y="32.8" width="9.21" height="47.7" fill="#006400" stroke="#262626" stroke-width="1.25"/>
<line x1="556.81" y1="49" x2="566.02" y2="49" stroke="#262626" stroke-width="2.3"/>
<line x1="571.63" y1="10.2" x2="571.63" y2="22.2" stroke="#262626" stroke-width="1.4"/>
<line x1="571.63" y1="79.8" x2="571.63" y2="146.5" stroke="#262626" stroke-width="1.4"/>
<rect x="567.02" y="22.2" width="9.21" height="57.6" fill="#35b515" stroke="#262626" stroke-width="1.25"/>
<line x1="567.02" y1="45.1" x2="576.24" y2="45.1" stroke="#262626" stroke-width="2.3"/>
<line x1="581.84" y1="10.2" x2="581.84" y2="33.9" stroke="#262626" stroke-width="1.4"/>
<line x1="581.84" y1="108.4" x2="581.84" y2="180.4" stroke="#262626" stroke-width="1.4"/>
<rect x="577.24" y="33.9" width="9.21" height="74.5" fill="#9acd32" stroke="#262626" stroke-width="1.25"/>
<line x1="577.24" y1="65.6" x2="586.45" y2="65.6" stroke="#262626" stroke-width="2.3"/>
<line x1="592.05" y1="20.1" x2="592.05" y2="57.2" stroke="#262626" stroke-width="1.4"/>
<line x1="592.05" y1="106.3" x2="592.05" y2="140.8" stroke="#262626" stroke-width="1.4"/>
<rect x="587.44" y="57.2" width="9.21" height="49.1" fill="#8b5d4b" stroke="#262626" stroke-width="1.25"/>
<line x1="587.44" y1="81.5" x2="596.65" y2="81.5" stroke="#262626" stroke-width="2.3"/>
<circle cx="602.26" cy="92.1" r="1.85" fill="#262626"/>
<circle cx="602.26" cy="94.64" r="1.85" fill="#262626"/>
<circle cx="602.26" cy="97.17" r="1.85" fill="#262626"/>
<circle cx="602.26" cy="99.71" r="1.85" fill="#262626"/>
<circle cx="602.26" cy="102.25" r="1.85" fill="#262626"/>
<circle cx="602.26" cy="104.78" r="1.85" fill="#262626"/>
<circle cx="602.26" cy="107.32" r="1.85" fill="#262626"/>
<circle cx="602.26" cy="109.85" r="1.85" fill="#262626"/>
<circle cx="602.26" cy="112.39" r="1.85" fill="#262626"/>
<circle cx="602.26" cy="114.93" r="1.85" fill="#262626"/>
<circle cx="602.26" cy="117.46" r="1.85" fill="#262626"/>
<circle cx="602.26" cy="120" r="1.85" fill="#262626"/>
<circle cx="602.26" cy="121.8" r="1.85" fill="#262626"/>
<circle cx="602.26" cy="128" r="1.85" fill="#262626"/>
<circle cx="602.26" cy="138.7" r="1.85" fill="#262626"/>
<circle cx="602.26" cy="144" r="1.85" fill="#262626"/>
<circle cx="602.26" cy="148.3" r="1.85" fill="#262626"/>
<line x1="602.26" y1="10.2" x2="602.26" y2="25.8" stroke="#262626" stroke-width="1.4"/>
<line x1="602.26" y1="51.2" x2="602.26" y2="91" stroke="#262626" stroke-width="1.4"/>
<rect x="597.65" y="25.8" width="9.21" height="25.4" fill="#4c1a8c" stroke="#262626" stroke-width="1.25"/>
<line x1="597.65" y1="35.6" x2="606.87" y2="35.6" stroke="#262626" stroke-width="2.3"/>
<line x1="612.47" y1="10.2" x2="612.47" y2="54.6" stroke="#262626" stroke-width="1.4"/>
<line x1="612.47" y1="122.4" x2="612.47" y2="187.4" stroke="#262626" stroke-width="1.4"/>
<rect x="607.87" y="54.6" width="9.21" height="67.8" fill="#8b008b" stroke="#262626" stroke-width="1.25"/>
<line x1="607.87" y1="86.4" x2="617.08" y2="86.4" stroke="#262626" stroke-width="2.3"/>
<line x1="622.68" y1="19.1" x2="622.68" y2="83" stroke="#262626" stroke-width="1.4"/>
<line x1="622.68" y1="144.4" x2="622.68" y2="186.4" stroke="#262626" stroke-width="1.4"/>
<rect x="618.08" y="83" width="9.21" height="61.4" fill="#ec6cec" stroke="#262626" stroke-width="1.25"/>
<line x1="618.08" y1="120.7" x2="627.29" y2="120.7" stroke="#262626" stroke-width="2.3"/>
<line x1="632.89" y1="40.7" x2="632.89" y2="85.8" stroke="#262626" stroke-width="1.4"/>
<line x1="632.89" y1="141.5" x2="632.89" y2="171.1" stroke="#262626" stroke-width="1.4"/>
<rect x="628.28" y="85.8" width="9.21" height="55.7" fill="#ffc0cb" stroke="#262626" stroke-width="1.25"/>
<line x1="628.28" y1="126.6" x2="637.5" y2="126.6" stroke="#262626" stroke-width="2.3"/>
<circle cx="84.35" cy="221.6" r="1.85" fill="#262626"/>
<circle cx="84.35" cy="223.94" r="1.85" fill="#262626"/>
<circle cx="84.35" cy="226.28" r="1.85" fill="#262626"/>
<circle cx="84.35" cy="228.62" r="1.85" fill="#262626"/>
<circle cx="84.35" cy="230.96" r="1.85" fill="#262626"/>
<circle cx="84.35" cy="233.3" r="1.85" fill="#262626"/>
<circle cx="84.35" cy="243.9" r="1.85" fill="#262626"/>
<circle cx="84.35" cy="246.55" r="1.85" fill="#262626"/>
<circle cx="84.35" cy="249.2" r="1.85" fill="#262626"/>
<circle cx="84.35" cy="251.85" r="1.85" fill="#262626"/>
<circle cx="84.35" cy="254.5" r="1.85" fill="#262626"/>
<circle cx="84.35" cy="259.8" r="1.85" fill="#262626"/>
<circle cx="84.35" cy="262.27" r="1.85" fill="#262626"/>
<circle cx="84.35" cy="264.73" r="1.85" fill="#262626"/>
<circle cx="84.35" cy="267.2" r="1.85" fill="#262626"/>
<circle cx="84.35" cy="269.67" r="1.85" fill="#262626"/>
<circle cx="84.35" cy="272.13" r="1.85" fill="#262626"/>
<circle cx="84.35" cy="274.6" r="1.85" fill="#262626"/>
<circle cx="84.35" cy="366.7" r="1.85" fill="#262626"/>
<circle cx="84.35" cy="369.07" r="1.85" fill="#262626"/>
<circle cx="84.35" cy="371.45" r="1.85" fill="#262626"/>
<circle cx="84.35" cy="373.82" r="1.85" fill="#262626"/>
<circle cx="84.35" cy="376.2" r="1.85" fill="#262626"/>
<line x1="84.35" y1="275.6" x2="84.35" y2="308.5" stroke="#262626" stroke-width="1.4"/>
<line x1="84.35" y1="332.4" x2="84.35" y2="365.7" stroke="#262626" stroke-width="1.4"/>
<rect x="79.4" y="308.5" width="9.9" height="23.9" fill="#333333" stroke="#262626" stroke-width="1.25"/>
<line x1="79.4" y1="320.5" x2="89.3" y2="320.5" stroke="#262626" stroke-width="2.3"/>
<line x1="95.25" y1="272.9" x2="95.25" y2="304.2" stroke="#262626" stroke-width="1.4"/>
<line x1="95.25" y1="326" x2="95.25" y2="344.5" stroke="#262626" stroke-width="1.4"/>
<rect x="90.3" y="304.2" width="9.9" height="21.8" fill="#f0e68c" stroke="#262626" stroke-width="1.25"/>
<line x1="90.3" y1="320.1" x2="100.2" y2="320.1" stroke="#262626" stroke-width="2.3"/>
<circle cx="106.15" cy="273.5" r="1.85" fill="#262626"/>
<line x1="106.15" y1="278.2" x2="106.15" y2="313.3" stroke="#262626" stroke-width="1.4"/>
<line x1="106.15" y1="336.6" x2="106.15" y2="355" stroke="#262626" stroke-width="1.4"/>
<rect x="101.2" y="313.3" width="9.9" height="23.3" fill="#f4a460" stroke="#262626" stroke-width="1.25"/>
<line x1="101.2" y1="322.4" x2="111.1" y2="322.4" stroke="#262626" stroke-width="2.3"/>
<circle cx="117.05" cy="269.3" r="1.85" fill="#262626"/>
<circle cx="117.05" cy="375.6" r="1.85" fill="#262626"/>
<line x1="117.05" y1="277.3" x2="117.05" y2="309.1" stroke="#262626" stroke-width="1.4"/>
<line x1="117.05" y1="336" x2="117.05" y2="367.8" stroke="#262626" stroke-width="1.4"/>
<rect x="112.1" y="309.1" width="9.9" height="26.9" fill="#073b3a" stroke="#262626" stroke-width="1.25"/>
<line x1="112.1" y1="322.2" x2="122" y2="322.2" stroke="#262626" stroke-width="2.3"/>
<circle cx="127.95" cy="227.6" r="1.85" fill="#262626"/>
<circle cx="127.95" cy="271.4" r="1.85" fill="#262626"/>
<circle cx="127.95" cy="273.5" r="1.85" fill="#262626"/>
<circle cx="127.95" cy="366.3" r="1.85" fill="#262626"/>
<circle cx="127.95" cy="372.6" r="1.85" fill="#262626"/>
<line x1="127.95" y1="278.2" x2="127.95" y2="310" stroke="#262626" stroke-width="1.4"/>
<line x1="127.95" y1="331.1" x2="127.95" y2="362.5" stroke="#262626" stroke-width="1.4"/>
<rect x="123" y="310" width="9.9" height="21.1" fill="#006400" stroke="#262626" stroke-width="1.25"/>
<line x1="123" y1="321.6" x2="132.9" y2="321.6" stroke="#262626" stroke-width="2.3"/>
<line x1="138.85" y1="268.9" x2="138.85" y2="307" stroke="#262626" stroke-width="1.4"/>
<line x1="138.85" y1="336.4" x2="138.85" y2="356.1" stroke="#262626" stroke-width="1.4"/>
<rect x="133.9" y="307" width="9.9" height="29.4" fill="#35b515" stroke="#262626" stroke-width="1.25"/>
<line x1="133.9" y1="321.6" x2="143.8" y2="321.6" stroke="#262626" stroke-width="2.3"/>
<line x1="149.75" y1="271.4" x2="149.75" y2="301" stroke="#262626" stroke-width="1.4"/>
<line x1="149.75" y1="325.8" x2="149.75" y2="348.7" stroke="#262626" stroke-width="1.4"/>
<rect x="144.8" y="301" width="9.9" height="24.8" fill="#9acd32" stroke="#262626" stroke-width="1.25"/>
<line x1="144.8" y1="308.5" x2="154.7" y2="308.5" stroke="#262626" stroke-width="2.3"/>
<line x1="160.65" y1="287.7" x2="160.65" y2="308.9" stroke="#262626" stroke-width="1.4"/>
<line x1="160.65" y1="327.5" x2="160.65" y2="343" stroke="#262626" stroke-width="1.4"/>
<rect x="155.7" y="308.9" width="9.9" height="18.6" fill="#8b5d4b" stroke="#262626" stroke-width="1.25"/>
<line x1="155.7" y1="321.2" x2="165.6" y2="321.2" stroke="#262626" stroke-width="2.3"/>
<circle cx="171.55" cy="292.6" r="1.85" fill="#262626"/>
<line x1="171.55" y1="295.8" x2="171.55" y2="320.1" stroke="#262626" stroke-width="1.4"/>
<line x1="171.55" y1="337.5" x2="171.55" y2="360" stroke="#262626" stroke-width="1.4"/>
<rect x="166.6" y="320.1" width="9.9" height="17.4" fill="#4c1a8c" stroke="#262626" stroke-width="1.25"/>
<line x1="166.6" y1="326.5" x2="176.5" y2="326.5" stroke="#262626" stroke-width="2.3"/>
<circle cx="182.45" cy="366.7" r="1.85" fill="#262626"/>
<circle cx="182.45" cy="369.9" r="1.85" fill="#262626"/>
<line x1="182.45" y1="282" x2="182.45" y2="311.7" stroke="#262626" stroke-width="1.4"/>
<line x1="182.45" y1="334.5" x2="182.45" y2="360.8" stroke="#262626" stroke-width="1.4"/>
<rect x="177.5" y="311.7" width="9.9" height="22.8" fill="#8b008b" stroke="#262626" stroke-width="1.25"/>
<line x1="177.5" y1="321.6" x2="187.4" y2="321.6" stroke="#262626" stroke-width="2.3"/>
<circle cx="193.35" cy="272.5" r="1.85" fill="#262626"/>
<circle cx="193.35" cy="360.8" r="1.85" fill="#262626"/>
<circle cx="193.35" cy="368.4" r="1.85" fill="#262626"/>
<line x1="193.35" y1="288" x2="193.35" y2="314.2" stroke="#262626" stroke-width="1.4"/>
<line x1="193.35" y1="332.2" x2="193.35" y2="358.2" stroke="#262626" stroke-width="1.4"/>
<rect x="188.4" y="314.2" width="9.9" height="18" fill="#ec6cec" stroke="#262626" stroke-width="1.25"/>
<line x1="188.4" y1="323.7" x2="198.3" y2="323.7" stroke="#262626" stroke-width="2.3"/>
<circle cx="204.25" cy="332.2" r="1.85" fill="#262626"/>
<line x1="204.25" y1="283" x2="204.25" y2="299.4" stroke="#262626" stroke-width="1.4"/>
<line x1="204.25" y1="311.2" x2="204.25" y2="326.5" stroke="#262626" stroke-width="1.4"/>
<rect x="199.3" y="299.4" width="9.9" height="11.8" fill="#8b7b8b" stroke="#262626" stroke-width="1.25"/>
<line x1="199.3" y1="305.7" x2="209.2" y2="305.7" stroke="#262626" stroke-width="2.3"/>
<circle cx="215.15" cy="350.8" r="1.85" fill="#262626"/>
<line x1="215.15" y1="294" x2="215.15" y2="312" stroke="#262626" stroke-width="1.4"/>
<line x1="215.15" y1="324.8" x2="215.15" y2="341.3" stroke="#262626" stroke-width="1.4"/>
<rect x="210.2" y="312" width="9.9" height="12.8" fill="#1b2386" stroke="#262626" stroke-width="1.25"/>
<line x1="210.2" y1="315.9" x2="220.1" y2="315.9" stroke="#262626" stroke-width="2.3"/>
<circle cx="226.05" cy="375.8" r="1.85" fill="#262626"/>
<line x1="226.05" y1="277.3" x2="226.05" y2="300.4" stroke="#262626" stroke-width="1.4"/>
<line x1="226.05" y1="330.3" x2="226.05" y2="358.2" stroke="#262626" stroke-width="1.4"/>
<rect x="221.1" y="300.4" width="9.9" height="29.9" fill="#98f5ff" stroke="#262626" stroke-width="1.25"/>
<line x1="221.1" y1="315.9" x2="231" y2="315.9" stroke="#262626" stroke-width="2.3"/>
<circle cx="286.3" cy="242.8" r="1.85" fill="#262626"/>
<circle cx="286.3" cy="271.4" r="1.85" fill="#262626"/>
<circle cx="286.3" cy="277.8" r="1.85" fill="#262626"/>
<circle cx="286.3" cy="280.64" r="1.85" fill="#262626"/>
<circle cx="286.3" cy="283.48" r="1.85" fill="#262626"/>
<circle cx="286.3" cy="286.32" r="1.85" fill="#262626"/>
<circle cx="286.3" cy="289.16" r="1.85" fill="#262626"/>
<circle cx="286.3" cy="292" r="1.85" fill="#262626"/>
<circle cx="286.3" cy="387" r="1.85" fill="#262626"/>
<circle cx="286.3" cy="390.1" r="1.85" fill="#262626"/>
<circle cx="286.3" cy="393.2" r="1.85" fill="#262626"/>
<line x1="286.3" y1="293.7" x2="286.3" y2="328" stroke="#262626" stroke-width="1.4"/>
<line x1="286.3" y1="351.5" x2="286.3" y2="385.3" stroke="#262626" stroke-width="1.4"/>
<rect x="282.58" y="328" width="7.45" height="23.5" fill="#333333" stroke="#262626" stroke-width="1.25"/>
<line x1="282.58" y1="339.2" x2="290.02" y2="339.2" stroke="#262626" stroke-width="2.3"/>
<circle cx="294.75" cy="242.8" r="1.85" fill="#262626"/>
<circle cx="294.75" cy="279.2" r="1.85" fill="#262626"/>
<circle cx="294.75" cy="382.6" r="1.85" fill="#262626"/>
<line x1="294.75" y1="295.8" x2="294.75" y2="319.7" stroke="#262626" stroke-width="1.4"/>
<line x1="294.75" y1="342.4" x2="294.75" y2="367.1" stroke="#262626" stroke-width="1.4"/>
<rect x="291.02" y="319.7" width="7.45" height="22.7" fill="#8b0000" stroke="#262626" stroke-width="1.25"/>
<line x1="291.02" y1="332.4" x2="298.47" y2="332.4" stroke="#262626" stroke-width="2.3"/>
<line x1="303.19" y1="302.8" x2="303.19" y2="327.5" stroke="#262626" stroke-width="1.4"/>
<line x1="303.19" y1="349.1" x2="303.19" y2="375.2" stroke="#262626" stroke-width="1.4"/>
<rect x="299.47" y="327.5" width="7.45" height="21.6" fill="#ff0000" stroke="#262626" stroke-width="1.25"/>
<line x1="299.47" y1="335" x2="306.91" y2="335" stroke="#262626" stroke-width="2.3"/>
<circle cx="311.63" cy="387.9" r="1.85" fill="#262626"/>
<line x1="311.63" y1="282.6" x2="311.63" y2="317" stroke="#262626" stroke-width="1.4"/>
<line x1="311.63" y1="340.7" x2="311.63" y2="369.3" stroke="#262626" stroke-width="1.4"/>
<rect x="307.91" y="317" width="7.45" height="23.7" fill="#f26d7d" stroke="#262626" stroke-width="1.25"/>
<line x1="307.91" y1="330.3" x2="315.36" y2="330.3" stroke="#262626" stroke-width="2.3"/>
<circle cx="320.08" cy="282" r="1.85" fill="#262626"/>
<circle cx="320.08" cy="287.3" r="1.85" fill="#262626"/>
<circle cx="320.08" cy="290" r="1.85" fill="#262626"/>
<line x1="320.08" y1="294" x2="320.08" y2="329.7" stroke="#262626" stroke-width="1.4"/>
<line x1="320.08" y1="354" x2="320.08" y2="386.8" stroke="#262626" stroke-width="1.4"/>
<rect x="316.36" y="329.7" width="7.45" height="24.3" fill="#ffe4e1" stroke="#262626" stroke-width="1.25"/>
<line x1="316.36" y1="343" x2="323.8" y2="343" stroke="#262626" stroke-width="2.3"/>
<circle cx="328.53" cy="291.5" r="1.85" fill="#262626"/>
<line x1="328.53" y1="320.1" x2="328.53" y2="337.5" stroke="#262626" stroke-width="1.4"/>
<line x1="328.53" y1="350.2" x2="328.53" y2="367.8" stroke="#262626" stroke-width="1.4"/>
<rect x="324.8" y="337.5" width="7.45" height="12.7" fill="#f0e68c" stroke="#262626" stroke-width="1.25"/>
<line x1="324.8" y1="343.8" x2="332.25" y2="343.8" stroke="#262626" stroke-width="2.3"/>
<circle cx="336.97" cy="299" r="1.85" fill="#262626"/>
<circle cx="336.97" cy="389" r="1.85" fill="#262626"/>
<line x1="336.97" y1="303.2" x2="336.97" y2="329.7" stroke="#262626" stroke-width="1.4"/>
<line x1="336.97" y1="349.1" x2="336.97" y2="368.4" stroke="#262626" stroke-width="1.4"/>
<rect x="333.25" y="329.7" width="7.45" height="19.4" fill="#ffa500" stroke="#262626" stroke-width="1.25"/>
<line x1="333.25" y1="338.5" x2="340.69" y2="338.5" stroke="#262626" stroke-width="2.3"/>
<circle cx="345.42" cy="381.5" r="1.85" fill="#262626"/>
<circle cx="345.42" cy="383.65" r="1.85" fill="#262626"/>
<circle cx="345.42" cy="385.8" r="1.85" fill="#262626"/>
<line x1="345.42" y1="300" x2="345.42" y2="322.7" stroke="#262626" stroke-width="1.4"/>
<line x1="345.42" y1="343" x2="345.42" y2="372.6" stroke="#262626" stroke-width="1.4"/>
<rect x="341.69" y="322.7" width="7.45" height="20.3" fill="#f4a460" stroke="#262626" stroke-width="1.25"/>
<line x1="341.69" y1="332.2" x2="349.14" y2="332.2" stroke="#262626" stroke-width="2.3"/>
<circle cx="353.86" cy="291.5" r="1.85" fill="#262626"/>
<line x1="353.86" y1="295.8" x2="353.86" y2="326" stroke="#262626" stroke-width="1.4"/>
<line x1="353.86" y1="348.1" x2="353.86" y2="380.5" stroke="#262626" stroke-width="1.4"/>
<rect x="350.14" y="326" width="7.45" height="22.1" fill="#ec874a" stroke="#262626" stroke-width="1.25"/>
<line x1="350.14" y1="337" x2="357.58" y2="337" stroke="#262626" stroke-width="2.3"/>
<circle cx="362.31" cy="286.7" r="1.85" fill="#262626"/>
<circle cx="362.31" cy="392.5" r="1.85" fill="#262626"/>
<line x1="362.31" y1="300" x2="362.31" y2="329.7" stroke="#262626" stroke-width="1.4"/>
<line x1="362.31" y1="352.3" x2="362.31" y2="386.8" stroke="#262626" stroke-width="1.4"/>
<rect x="358.58" y="329.7" width="7.45" height="22.6" fill="#073b3a" stroke="#262626" stroke-width="1.25"/>
<line x1="358.58" y1="340.9" x2="366.03" y2="340.9" stroke="#262626" stroke-width="2.3"/>
<circle cx="370.75" cy="271.4" r="1.85" fill="#262626"/>
<circle cx="370.75" cy="290.9" r="1.85" fill="#262626"/>
<circle cx="370.75" cy="385.3" r="1.85" fill="#262626"/>
<line x1="370.75" y1="294.3" x2="370.75" y2="326.5" stroke="#262626" stroke-width="1.4"/>
<line x1="370.75" y1="348.1" x2="370.75" y2="379.4" stroke="#262626" stroke-width="1.4"/>
<rect x="367.03" y="326.5" width="7.45" height="21.6" fill="#006400" stroke="#262626" stroke-width="1.25"/>
<line x1="367.03" y1="338.1" x2="374.47" y2="338.1" stroke="#262626" stroke-width="2.3"/>
<line x1="379.2" y1="305.7" x2="379.2" y2="339.2" stroke="#262626" stroke-width="1.4"/>
<line x1="379.2" y1="361" x2="379.2" y2="383.2" stroke="#262626" stroke-width="1.4"/>
<rect x="375.47" y="339.2" width="7.45" height="21.8" fill="#35b515" stroke="#262626" stroke-width="1.25"/>
<line x1="375.47" y1="349.3" x2="382.92" y2="349.3" stroke="#262626" stroke-width="2.3"/>
<circle cx="387.64" cy="293.7" r="1.85" fill="#262626"/>
<circle cx="387.64" cy="376.7" r="1.85" fill="#262626"/>
<line x1="387.64" y1="302.5" x2="387.64" y2="328.6" stroke="#262626" stroke-width="1.4"/>
<line x1="387.64" y1="346.6" x2="387.64" y2="372" stroke="#262626" stroke-width="1.4"/>
<rect x="383.92" y="328.6" width="7.45" height="18" fill="#9acd32" stroke="#262626" stroke-width="1.25"/>
<line x1="383.92" y1="337.1" x2="391.36" y2="337.1" stroke="#262626" stroke-width="2.3"/>
<circle cx="396.09" cy="300.6" r="1.85" fill="#262626"/>
<circle cx="396.09" cy="308.9" r="1.85" fill="#262626"/>
<line x1="396.09" y1="312.7" x2="396.09" y2="338.1" stroke="#262626" stroke-width="1.4"/>
<line x1="396.09" y1="357.2" x2="396.09" y2="382" stroke="#262626" stroke-width="1.4"/>
<rect x="392.36" y="338.1" width="7.45" height="19.1" fill="#8b5d4b" stroke="#262626" stroke-width="1.25"/>
<line x1="392.36" y1="348.7" x2="399.81" y2="348.7" stroke="#262626" stroke-width="2.3"/>
<circle cx="404.53" cy="306.8" r="1.85" fill="#262626"/>
<line x1="404.53" y1="311.2" x2="404.53" y2="335.4" stroke="#262626" stroke-width="1.4"/>
<line x1="404.53" y1="354" x2="404.53" y2="373.5" stroke="#262626" stroke-width="1.4"/>
<rect x="400.81" y="335.4" width="7.45" height="18.6" fill="#51362f" stroke="#262626" stroke-width="1.25"/>
<line x1="400.81" y1="344.9" x2="408.25" y2="344.9" stroke="#262626" stroke-width="2.3"/>
<line x1="412.98" y1="302.8" x2="412.98" y2="332.4" stroke="#262626" stroke-width="1.4"/>
<line x1="412.98" y1="355.1" x2="412.98" y2="378.4" stroke="#262626" stroke-width="1.4"/>
<rect x="409.25" y="332.4" width="7.45" height="22.7" fill="#4c1a8c" stroke="#262626" stroke-width="1.25"/>
<line x1="409.25" y1="342.4" x2="416.7" y2="342.4" stroke="#262626" stroke-width="2.3"/>
<circle cx="421.42" cy="292.2" r="1.85" fill="#262626"/>
<circle cx="421.42" cy="385.1" r="1.85" fill="#262626"/>
<line x1="421.42" y1="297.9" x2="421.42" y2="330.3" stroke="#262626" stroke-width="1.4"/>
<line x1="421.42" y1="352.3" x2="421.42" y2="379" stroke="#262626" stroke-width="1.4"/>
<rect x="417.7" y="330.3" width="7.45" height="22" fill="#8b008b" stroke="#262626" stroke-width="1.25"/>
<line x1="417.7" y1="342.8" x2="425.14" y2="342.8" stroke="#262626" stroke-width="2.3"/>
<line x1="429.87" y1="295.8" x2="429.87" y2="326.5" stroke="#262626" stroke-width="1.4"/>
<line x1="429.87" y1="348.7" x2="429.87" y2="379.4" stroke="#262626" stroke-width="1.4"/>
<rect x="426.14" y="326.5" width="7.45" height="22.2" fill="#ec6cec" stroke="#262626" stroke-width="1.25"/>
<line x1="426.14" y1="334.5" x2="433.59" y2="334.5" stroke="#262626" stroke-width="2.3"/>
<circle cx="489.95" cy="219.5" r="1.85" fill="#262626"/>
<circle cx="489.95" cy="222.28" r="1.85" fill="#262626"/>
<circle cx="489.95" cy="225.06" r="1.85" fill="#262626"/>
<circle cx="489.95" cy="227.84" r="1.85" fill="#262626"/>
<circle cx="489.95" cy="230.62" r="1.85" fill="#262626"/>
<circle cx="489.95" cy="233.4" r="1.85" fill="#262626"/>
<circle cx="489.95" cy="377.3" r="1.85" fill="#262626"/>
<circle cx="489.95" cy="380.06" r="1.85" fill="#262626"/>
<circle cx="489.95" cy="382.82" r="1.85" fill="#262626"/>
<circle cx="489.95" cy="385.58" r="1.85" fill="#262626"/>
<circle cx="489.95" cy="388.34" r="1.85" fill="#262626"/>
<circle cx="489.95" cy="391.1" r="1.85" fill="#262626"/>
<circle cx="489.95" cy="407" r="1.85" fill="#262626"/>
<line x1="489.95" y1="235" x2="489.95" y2="286.7" stroke="#262626" stroke-width="1.4"/>
<line x1="489.95" y1="322.2" x2="489.95" y2="373.5" stroke="#262626" stroke-width="1.4"/>
<rect x="485.34" y="286.7" width="9.21" height="35.5" fill="#333333" stroke="#262626" stroke-width="1.25"/>
<line x1="485.34" y1="305.3" x2="494.55" y2="305.3" stroke="#262626" stroke-width="2.3"/>
<circle cx="500.16" cy="249.2" r="1.85" fill="#262626"/>
<circle cx="500.16" cy="251.85" r="1.85" fill="#262626"/>
<circle cx="500.16" cy="254.5" r="1.85" fill="#262626"/>
<line x1="500.16" y1="270.4" x2="500.16" y2="295.8" stroke="#262626" stroke-width="1.4"/>
<line x1="500.16" y1="322.7" x2="500.16" y2="355.1" stroke="#262626" stroke-width="1.4"/>
<rect x="495.55" y="295.8" width="9.21" height="26.9" fill="#8b0000" stroke="#262626" stroke-width="1.25"/>
<line x1="495.55" y1="307.8" x2="504.76" y2="307.8" stroke="#262626" stroke-width="2.3"/>
<line x1="510.37" y1="244.9" x2="510.37" y2="285.6" stroke="#262626" stroke-width="1.4"/>
<line x1="510.37" y1="321.6" x2="510.37" y2="334.9" stroke="#262626" stroke-width="1.4"/>
<rect x="505.76" y="285.6" width="9.21" height="36" fill="#ff0000" stroke="#262626" stroke-width="1.25"/>
<line x1="505.76" y1="313.3" x2="514.98" y2="313.3" stroke="#262626" stroke-width="2.3"/>
<circle cx="520.58" cy="223.8" r="1.85" fill="#262626"/>
<circle cx="520.58" cy="243.5" r="1.85" fill="#262626"/>
<line x1="520.58" y1="262.9" x2="520.58" y2="288.8" stroke="#262626" stroke-width="1.4"/>
<line x1="520.58" y1="318.4" x2="520.58" y2="343" stroke="#262626" stroke-width="1.4"/>
<rect x="515.98" y="288.8" width="9.21" height="29.6" fill="#f26d7d" stroke="#262626" stroke-width="1.25"/>
<line x1="515.98" y1="312.7" x2="525.19" y2="312.7" stroke="#262626" stroke-width="2.3"/>
<line x1="530.79" y1="223.8" x2="530.79" y2="272.5" stroke="#262626" stroke-width="1.4"/>
<line x1="530.79" y1="313.1" x2="530.79" y2="350.8" stroke="#262626" stroke-width="1.4"/>
<rect x="526.18" y="272.5" width="9.21" height="40.6" fill="#ffe4e1" stroke="#262626" stroke-width="1.25"/>
<line x1="526.18" y1="292.6" x2="535.39" y2="292.6" stroke="#262626" stroke-width="2.3"/>
<circle cx="541" cy="381.1" r="1.85" fill="#262626"/>
<line x1="541" y1="224.4" x2="541" y2="281" stroke="#262626" stroke-width="1.4"/>
<line x1="541" y1="319.1" x2="541" y2="365.7" stroke="#262626" stroke-width="1.4"/>
<rect x="536.39" y="281" width="9.21" height="38.1" fill="#f4a460" stroke="#262626" stroke-width="1.25"/>
<line x1="536.39" y1="300" x2="545.61" y2="300" stroke="#262626" stroke-width="2.3"/>
<circle cx="551.21" cy="220.2" r="1.85" fill="#262626"/>
<circle cx="551.21" cy="222.84" r="1.85" fill="#262626"/>
<circle cx="551.21" cy="225.48" r="1.85" fill="#262626"/>
<circle cx="551.21" cy="228.12" r="1.85" fill="#262626"/>
<circle cx="551.21" cy="230.76" r="1.85" fill="#262626"/>
<circle cx="551.21" cy="233.4" r="1.85" fill="#262626"/>
<line x1="551.21" y1="235" x2="551.21" y2="285.2" stroke="#262626" stroke-width="1.4"/>
<line x1="551.21" y1="319.1" x2="551.21" y2="357.8" stroke="#262626" stroke-width="1.4"/>
<rect x="546.61" y="285.2" width="9.21" height="33.9" fill="#073b3a" stroke="#262626" stroke-width="1.25"/>
<line x1="546.61" y1="302.8" x2="555.82" y2="302.8" stroke="#262626" stroke-width="2.3"/>
<circle cx="561.42" cy="221.6" r="1.85" fill="#262626"/>
<circle cx="561.42" cy="224.25" r="1.85" fill="#262626"/>
<circle cx="561.42" cy="226.9" r="1.85" fill="#262626"/>
<circle cx="561.42" cy="387.5" r="1.85" fill="#262626"/>
<line x1="561.42" y1="230.1" x2="561.42" y2="286.2" stroke="#262626" stroke-width="1.4"/>
<line x1="561.42" y1="322.7" x2="561.42" y2="377.3" stroke="#262626" stroke-width="1.4"/>
<rect x="556.81" y="286.2" width="9.21" height="36.5" fill="#006400" stroke="#262626" stroke-width="1.25"/>
<line x1="556.81" y1="302.5" x2="566.02" y2="302.5" stroke="#262626" stroke-width="2.3"/>
<line x1="571.63" y1="231.2" x2="571.63" y2="275.6" stroke="#262626" stroke-width="1.4"/>
<line x1="571.63" y1="311.2" x2="571.63" y2="344.5" stroke="#262626" stroke-width="1.4"/>
<rect x="567.02" y="275.6" width="9.21" height="35.6" fill="#35b515" stroke="#262626" stroke-width="1.25"/>
<line x1="567.02" y1="290.9" x2="576.24" y2="290.9" stroke="#262626" stroke-width="2.3"/>
<circle cx="581.84" cy="219.5" r="1.85" fill="#262626"/>
<circle cx="581.84" cy="222.07" r="1.85" fill="#262626"/>
<circle cx="581.84" cy="224.64" r="1.85" fill="#262626"/>
<circle cx="581.84" cy="227.21" r="1.85" fill="#262626"/>
<circle cx="581.84" cy="229.79" r="1.85" fill="#262626"/>
<circle cx="581.84" cy="232.36" r="1.85" fill="#262626"/>
<circle cx="581.84" cy="234.93" r="1.85" fill="#262626"/>
<circle cx="581.84" cy="237.5" r="1.85" fill="#262626"/>
<line x1="581.84" y1="242.2" x2="581.84" y2="287.9" stroke="#262626" stroke-width="1.4"/>
<line x1="581.84" y1="319.7" x2="581.84" y2="365.7" stroke="#262626" stroke-width="1.4"/>
<rect x="577.24" y="287.9" width="9.21" height="31.8" fill="#9acd32" stroke="#262626" stroke-width="1.25"/>
<line x1="577.24" y1="302.1" x2="586.45" y2="302.1" stroke="#262626" stroke-width="2.3"/>
<line x1="592.05" y1="232.2" x2="592.05" y2="254.5" stroke="#262626" stroke-width="1.4"/>
<line x1="592.05" y1="296.8" x2="592.05" y2="340.9" stroke="#262626" stroke-width="1.4"/>
<rect x="587.44" y="254.5" width="9.21" height="42.3" fill="#8b5d4b" stroke="#262626" stroke-width="1.25"/>
<line x1="587.44" y1="274" x2="596.65" y2="274" stroke="#262626" stroke-width="2.3"/>
<circle cx="602.26" cy="223.8" r="1.85" fill="#262626"/>
<circle cx="602.26" cy="230" r="1.85" fill="#262626"/>
<circle cx="602.26" cy="236" r="1.85" fill="#262626"/>
<circle cx="602.26" cy="243.9" r="1.85" fill="#262626"/>
<line x1="602.26" y1="244.9" x2="602.26" y2="289.4" stroke="#262626" stroke-width="1.4"/>
<line x1="602.26" y1="319.1" x2="602.26" y2="357.8" stroke="#262626" stroke-width="1.4"/>
<rect x="597.65" y="289.4" width="9.21" height="29.7" fill="#4c1a8c" stroke="#262626" stroke-width="1.25"/>
<line x1="597.65" y1="304.9" x2="606.87" y2="304.9" stroke="#262626" stroke-width="2.3"/>
<circle cx="612.47" cy="221" r="1.85" fill="#262626"/>
<circle cx="612.47" cy="223.65" r="1.85" fill="#262626"/>
<circle cx="612.47" cy="226.31" r="1.85" fill="#262626"/>
<circle cx="612.47" cy="228.96" r="1.85" fill="#262626"/>
<circle cx="612.47" cy="231.62" r="1.85" fill="#262626"/>
<circle cx="612.47" cy="234.27" r="1.85" fill="#262626"/>
<circle cx="612.47" cy="236.93" r="1.85" fill="#262626"/>
<circle cx="612.47" cy="239.58" r="1.85" fill="#262626"/>
<circle cx="612.47" cy="242.24" r="1.85" fill="#262626"/>
<circle cx="612.47" cy="244.89" r="1.85" fill="#262626"/>
<circle cx="612.47" cy="247.55" r="1.85" fill="#262626"/>
<circle cx="612.47" cy="250.2" r="1.85" fill="#262626"/>
<circle cx="612.47" cy="374.1" r="1.85" fill="#262626"/>
<circle cx="612.47" cy="389.6" r="1.85" fill="#262626"/>
<line x1="612.47" y1="250.2" x2="612.47" y2="296.2" stroke="#262626" stroke-width="1.4"/>
<line x1="612.47" y1="326.9" x2="612.47" y2="369.3" stroke="#262626" stroke-width="1.4"/>
<rect x="607.87" y="296.2" width="9.21" height="30.7" fill="#8b008b" stroke="#262626" stroke-width="1.25"/>
<line x1="607.87" y1="311.2" x2="617.08" y2="311.2" stroke="#262626" stroke-width="2.3"/>
<circle cx="622.68" cy="223.8" r="1.85" fill="#262626"/>
<circle cx="622.68" cy="226.95" r="1.85" fill="#262626"/>
<circle cx="622.68" cy="230.1" r="1.85" fill="#262626"/>
<circle cx="622.68" cy="241.8" r="1.85" fill="#262626"/>
<circle cx="622.68" cy="244.47" r="1.85" fill="#262626"/>
<circle cx="622.68" cy="247.13" r="1.85" fill="#262626"/>
<circle cx="622.68" cy="249.8" r="1.85" fill="#262626"/>
<circle cx="622.68" cy="386.2" r="1.85" fill="#262626"/>
<circle cx="622.68" cy="407" r="1.85" fill="#262626"/>
<line x1="622.68" y1="251.3" x2="622.68" y2="301.1" stroke="#262626" stroke-width="1.4"/>
<line x1="622.68" y1="334.5" x2="622.68" y2="382.6" stroke="#262626" stroke-width="1.4"/>
<rect x="618.08" y="301.1" width="9.21" height="33.4" fill="#ec6cec" stroke="#262626" stroke-width="1.25"/>
<line x1="618.08" y1="319.1" x2="627.29" y2="319.1" stroke="#262626" stroke-width="2.3"/>
<circle cx="632.89" cy="364.2" r="1.85" fill="#262626"/>
<line x1="632.89" y1="255.5" x2="632.89" y2="287.9" stroke="#262626" stroke-width="1.4"/>
<line x1="632.89" y1="315.3" x2="632.89" y2="346.6" stroke="#262626" stroke-width="1.4"/>
<rect x="628.28" y="287.9" width="9.21" height="27.4" fill="#ffc0cb" stroke="#262626" stroke-width="1.25"/>
<line x1="628.28" y1="301.5" x2="637.5" y2="301.5" stroke="#262626" stroke-width="2.3"/>
<circle cx="84.8" cy="452.8" r="1.85" fill="#262626"/>
<circle cx="84.8" cy="458.1" r="1.85" fill="#262626"/>
<circle cx="84.8" cy="460.61" r="1.85" fill="#262626"/>
<circle cx="84.8" cy="463.12" r="1.85" fill="#262626"/>
<circle cx="84.8" cy="465.64" r="1.85" fill="#262626"/>
<circle cx="84.8" cy="468.15" r="1.85" fill="#262626"/>
<circle cx="84.8" cy="470.66" r="1.85" fill="#262626"/>
<circle cx="84.8" cy="473.18" r="1.85" fill="#262626"/>
<circle cx="84.8" cy="475.69" r="1.85" fill="#262626"/>
<circle cx="84.8" cy="478.2" r="1.85" fill="#262626"/>
<circle cx="84.8" cy="483.5" r="1.85" fill="#262626"/>
<circle cx="84.8" cy="485.98" r="1.85" fill="#262626"/>
<circle cx="84.8" cy="488.47" r="1.85" fill="#262626"/>
<circle cx="84.8" cy="490.95" r="1.85" fill="#262626"/>
<circle cx="84.8" cy="493.43" r="1.85" fill="#262626"/>
<circle cx="84.8" cy="495.92" r="1.85" fill="#262626"/>
<circle cx="84.8" cy="498.4" r="1.85" fill="#262626"/>
<circle cx="84.8" cy="588.4" r="1.85" fill="#262626"/>
<circle cx="84.8" cy="590.94" r="1.85" fill="#262626"/>
<circle cx="84.8" cy="593.48" r="1.85" fill="#262626"/>
<circle cx="84.8" cy="596.02" r="1.85" fill="#262626"/>
<circle cx="84.8" cy="598.56" r="1.85" fill="#262626"/>
<circle cx="84.8" cy="601.1" r="1.85" fill="#262626"/>
<line x1="84.8" y1="499.4" x2="84.8" y2="531.6" stroke="#262626" stroke-width="1.4"/>
<line x1="84.8" y1="554.9" x2="84.8" y2="587.3" stroke="#262626" stroke-width="1.4"/>
<rect x="79.85" y="531.6" width="9.9" height="23.3" fill="#333333" stroke="#262626" stroke-width="1.25"/>
<line x1="79.85" y1="544" x2="89.75" y2="544" stroke="#262626" stroke-width="2.3"/>
<circle cx="95.7" cy="489.5" r="1.85" fill="#262626"/>
<line x1="95.7" y1="515.3" x2="95.7" y2="535.4" stroke="#262626" stroke-width="1.4"/>
<line x1="95.7" y1="555.5" x2="95.7" y2="572.5" stroke="#262626" stroke-width="1.4"/>
<rect x="90.75" y="535.4" width="9.9" height="20.1" fill="#f0e68c" stroke="#262626" stroke-width="1.25"/>
<line x1="90.75" y1="543" x2="100.65" y2="543" stroke="#262626" stroke-width="2.3"/>
<circle cx="106.6" cy="497.3" r="1.85" fill="#262626"/>
<circle cx="106.6" cy="500.45" r="1.85" fill="#262626"/>
<circle cx="106.6" cy="503.6" r="1.85" fill="#262626"/>
<line x1="106.6" y1="507.3" x2="106.6" y2="535.8" stroke="#262626" stroke-width="1.4"/>
<line x1="106.6" y1="556.6" x2="106.6" y2="573.5" stroke="#262626" stroke-width="1.4"/>
<rect x="101.65" y="535.8" width="9.9" height="20.8" fill="#f4a460" stroke="#262626" stroke-width="1.25"/>
<line x1="101.65" y1="546.6" x2="111.55" y2="546.6" stroke="#262626" stroke-width="2.3"/>
<circle cx="117.5" cy="493" r="1.85" fill="#262626"/>
<circle cx="117.5" cy="590.5" r="1.85" fill="#262626"/>
<circle cx="117.5" cy="592.6" r="1.85" fill="#262626"/>
<circle cx="117.5" cy="594.7" r="1.85" fill="#262626"/>
<line x1="117.5" y1="500" x2="117.5" y2="532.7" stroke="#262626" stroke-width="1.4"/>
<line x1="117.5" y1="556" x2="117.5" y2="589.4" stroke="#262626" stroke-width="1.4"/>
<rect x="112.55" y="532.7" width="9.9" height="23.3" fill="#073b3a" stroke="#262626" stroke-width="1.25"/>
<line x1="112.55" y1="543.9" x2="122.45" y2="543.9" stroke="#262626" stroke-width="2.3"/>
<circle cx="128.4" cy="463.8" r="1.85" fill="#262626"/>
<circle cx="128.4" cy="493.7" r="1.85" fill="#262626"/>
<circle cx="128.4" cy="500" r="1.85" fill="#262626"/>
<line x1="128.4" y1="502.6" x2="128.4" y2="532.9" stroke="#262626" stroke-width="1.4"/>
<line x1="128.4" y1="553.8" x2="128.4" y2="583.7" stroke="#262626" stroke-width="1.4"/>
<rect x="123.45" y="532.9" width="9.9" height="20.9" fill="#006400" stroke="#262626" stroke-width="1.25"/>
<line x1="123.45" y1="545" x2="133.35" y2="545" stroke="#262626" stroke-width="2.3"/>
<circle cx="139.3" cy="487.8" r="1.85" fill="#262626"/>
<line x1="139.3" y1="494.5" x2="139.3" y2="532.2" stroke="#262626" stroke-width="1.4"/>
<line x1="139.3" y1="557.2" x2="139.3" y2="578.4" stroke="#262626" stroke-width="1.4"/>
<rect x="134.35" y="532.2" width="9.9" height="25" fill="#35b515" stroke="#262626" stroke-width="1.25"/>
<line x1="134.35" y1="548.1" x2="144.25" y2="548.1" stroke="#262626" stroke-width="2.3"/>
<circle cx="150.2" cy="486.3" r="1.85" fill="#262626"/>
<line x1="150.2" y1="495.2" x2="150.2" y2="523.8" stroke="#262626" stroke-width="1.4"/>
<line x1="150.2" y1="545" x2="150.2" y2="571.4" stroke="#262626" stroke-width="1.4"/>
<rect x="145.25" y="523.8" width="9.9" height="21.2" fill="#9acd32" stroke="#262626" stroke-width="1.25"/>
<line x1="145.25" y1="534.8" x2="155.15" y2="534.8" stroke="#262626" stroke-width="2.3"/>
<line x1="161.1" y1="516.4" x2="161.1" y2="534.8" stroke="#262626" stroke-width="1.4"/>
<line x1="161.1" y1="554.5" x2="161.1" y2="566.1" stroke="#262626" stroke-width="1.4"/>
<rect x="156.15" y="534.8" width="9.9" height="19.7" fill="#8b5d4b" stroke="#262626" stroke-width="1.25"/>
<line x1="156.15" y1="546.4" x2="166.05" y2="546.4" stroke="#262626" stroke-width="2.3"/>
<circle cx="172" cy="518.9" r="1.85" fill="#262626"/>
<circle cx="172" cy="582.6" r="1.85" fill="#262626"/>
<line x1="172" y1="522.1" x2="172" y2="542.8" stroke="#262626" stroke-width="1.4"/>
<line x1="172" y1="557.7" x2="172" y2="577.8" stroke="#262626" stroke-width="1.4"/>
<rect x="167.05" y="542.8" width="9.9" height="14.9" fill="#4c1a8c" stroke="#262626" stroke-width="1.25"/>
<line x1="167.05" y1="548.5" x2="176.95" y2="548.5" stroke="#262626" stroke-width="2.3"/>
<circle cx="182.9" cy="587.3" r="1.85" fill="#262626"/>
<line x1="182.9" y1="507.9" x2="182.9" y2="533.7" stroke="#262626" stroke-width="1.4"/>
<line x1="182.9" y1="554.5" x2="182.9" y2="580.5" stroke="#262626" stroke-width="1.4"/>
<rect x="177.95" y="533.7" width="9.9" height="20.8" fill="#8b008b" stroke="#262626" stroke-width="1.25"/>
<line x1="177.95" y1="543.9" x2="187.85" y2="543.9" stroke="#262626" stroke-width="2.3"/>
<circle cx="193.8" cy="496.7" r="1.85" fill="#262626"/>
<circle cx="193.8" cy="585.2" r="1.85" fill="#262626"/>
<circle cx="193.8" cy="587.3" r="1.85" fill="#262626"/>
<circle cx="193.8" cy="589.4" r="1.85" fill="#262626"/>
<circle cx="193.8" cy="596.2" r="1.85" fill="#262626"/>
<line x1="193.8" y1="508.9" x2="193.8" y2="535.4" stroke="#262626" stroke-width="1.4"/>
<line x1="193.8" y1="553.4" x2="193.8" y2="577.1" stroke="#262626" stroke-width="1.4"/>
<rect x="188.85" y="535.4" width="9.9" height="18" fill="#ec6cec" stroke="#262626" stroke-width="1.25"/>
<line x1="188.85" y1="542.8" x2="198.75" y2="542.8" stroke="#262626" stroke-width="2.3"/>
<line x1="204.7" y1="503.2" x2="204.7" y2="524.8" stroke="#262626" stroke-width="1.4"/>
<line x1="204.7" y1="540.3" x2="204.7" y2="558.7" stroke="#262626" stroke-width="1.4"/>
<rect x="199.75" y="524.8" width="9.9" height="15.5" fill="#8b7b8b" stroke="#262626" stroke-width="1.25"/>
<line x1="199.75" y1="534.4" x2="209.65" y2="534.4" stroke="#262626" stroke-width="2.3"/>
<line x1="215.6" y1="520.2" x2="215.6" y2="536.5" stroke="#262626" stroke-width="1.4"/>
<line x1="215.6" y1="553.4" x2="215.6" y2="570.8" stroke="#262626" stroke-width="1.4"/>
<rect x="210.65" y="536.5" width="9.9" height="16.9" fill="#1b2386" stroke="#262626" stroke-width="1.25"/>
<line x1="210.65" y1="542.2" x2="220.55" y2="542.2" stroke="#262626" stroke-width="2.3"/>
<line x1="226.5" y1="498.8" x2="226.5" y2="522.7" stroke="#262626" stroke-width="1.4"/>
<line x1="226.5" y1="553.4" x2="226.5" y2="599.6" stroke="#262626" stroke-width="1.4"/>
<rect x="221.55" y="522.7" width="9.9" height="30.7" fill="#98f5ff" stroke="#262626" stroke-width="1.25"/>
<line x1="221.55" y1="541.1" x2="231.45" y2="541.1" stroke="#262626" stroke-width="2.3"/>
<circle cx="286.75" cy="482.5" r="1.85" fill="#262626"/>
<circle cx="286.75" cy="495.2" r="1.85" fill="#262626"/>
<circle cx="286.75" cy="497.85" r="1.85" fill="#262626"/>
<circle cx="286.75" cy="500.5" r="1.85" fill="#262626"/>
<circle cx="286.75" cy="503.7" r="1.85" fill="#262626"/>
<circle cx="286.75" cy="506.17" r="1.85" fill="#262626"/>
<circle cx="286.75" cy="508.63" r="1.85" fill="#262626"/>
<circle cx="286.75" cy="511.1" r="1.85" fill="#262626"/>
<circle cx="286.75" cy="513.57" r="1.85" fill="#262626"/>
<circle cx="286.75" cy="516.03" r="1.85" fill="#262626"/>
<circle cx="286.75" cy="518.5" r="1.85" fill="#262626"/>
<circle cx="286.75" cy="611.6" r="1.85" fill="#262626"/>
<circle cx="286.75" cy="614.07" r="1.85" fill="#262626"/>
<circle cx="286.75" cy="616.53" r="1.85" fill="#262626"/>
<circle cx="286.75" cy="619" r="1.85" fill="#262626"/>
<line x1="286.75" y1="519.5" x2="286.75" y2="552.4" stroke="#262626" stroke-width="1.4"/>
<line x1="286.75" y1="575.2" x2="286.75" y2="610.6" stroke="#262626" stroke-width="1.4"/>
<rect x="283.03" y="552.4" width="7.45" height="22.8" fill="#333333" stroke="#262626" stroke-width="1.25"/>
<line x1="283.03" y1="564" x2="290.47" y2="564" stroke="#262626" stroke-width="2.3"/>
<circle cx="295.19" cy="482.5" r="1.85" fill="#262626"/>
<circle cx="295.19" cy="505.1" r="1.85" fill="#262626"/>
<circle cx="295.19" cy="606.8" r="1.85" fill="#262626"/>
<line x1="295.19" y1="520.6" x2="295.19" y2="544.9" stroke="#262626" stroke-width="1.4"/>
<line x1="295.19" y1="565.7" x2="295.19" y2="593.2" stroke="#262626" stroke-width="1.4"/>
<rect x="291.47" y="544.9" width="7.45" height="20.8" fill="#8b0000" stroke="#262626" stroke-width="1.25"/>
<line x1="291.47" y1="555.5" x2="298.92" y2="555.5" stroke="#262626" stroke-width="2.3"/>
<line x1="303.64" y1="524.8" x2="303.64" y2="548.5" stroke="#262626" stroke-width="1.4"/>
<line x1="303.64" y1="574" x2="303.64" y2="599.6" stroke="#262626" stroke-width="1.4"/>
<rect x="299.92" y="548.5" width="7.45" height="25.5" fill="#ff0000" stroke="#262626" stroke-width="1.25"/>
<line x1="299.92" y1="558.8" x2="307.36" y2="558.8" stroke="#262626" stroke-width="2.3"/>
<circle cx="312.08" cy="495.8" r="1.85" fill="#262626"/>
<line x1="312.08" y1="515.3" x2="312.08" y2="541.8" stroke="#262626" stroke-width="1.4"/>
<line x1="312.08" y1="566.1" x2="312.08" y2="593.2" stroke="#262626" stroke-width="1.4"/>
<rect x="308.36" y="541.8" width="7.45" height="24.3" fill="#f26d7d" stroke="#262626" stroke-width="1.25"/>
<line x1="308.36" y1="553.8" x2="315.81" y2="553.8" stroke="#262626" stroke-width="2.3"/>
<circle cx="320.53" cy="507.9" r="1.85" fill="#262626"/>
<circle cx="320.53" cy="510.55" r="1.85" fill="#262626"/>
<circle cx="320.53" cy="513.2" r="1.85" fill="#262626"/>
<circle cx="320.53" cy="518.5" r="1.85" fill="#262626"/>
<line x1="320.53" y1="522" x2="320.53" y2="553.8" stroke="#262626" stroke-width="1.4"/>
<line x1="320.53" y1="576.3" x2="320.53" y2="605.3" stroke="#262626" stroke-width="1.4"/>
<rect x="316.81" y="553.8" width="7.45" height="22.5" fill="#ffe4e1" stroke="#262626" stroke-width="1.25"/>
<line x1="316.81" y1="565.7" x2="324.25" y2="565.7" stroke="#262626" stroke-width="2.3"/>
<circle cx="328.98" cy="516.4" r="1.85" fill="#262626"/>
<circle cx="328.98" cy="533.9" r="1.85" fill="#262626"/>
<line x1="328.98" y1="541.8" x2="328.98" y2="560.8" stroke="#262626" stroke-width="1.4"/>
<line x1="328.98" y1="574" x2="328.98" y2="592.6" stroke="#262626" stroke-width="1.4"/>
<rect x="325.25" y="560.8" width="7.45" height="13.2" fill="#f0e68c" stroke="#262626" stroke-width="1.25"/>
<line x1="325.25" y1="566.1" x2="332.7" y2="566.1" stroke="#262626" stroke-width="2.3"/>
<circle cx="337.42" cy="603.8" r="1.85" fill="#262626"/>
<line x1="337.42" y1="522.7" x2="337.42" y2="551.3" stroke="#262626" stroke-width="1.4"/>
<line x1="337.42" y1="571.4" x2="337.42" y2="589.4" stroke="#262626" stroke-width="1.4"/>
<rect x="333.7" y="551.3" width="7.45" height="20.1" fill="#ffa500" stroke="#262626" stroke-width="1.25"/>
<line x1="333.7" y1="560.8" x2="341.14" y2="560.8" stroke="#262626" stroke-width="2.3"/>
<circle cx="345.87" cy="597" r="1.85" fill="#262626"/>
<circle cx="345.87" cy="601.5" r="1.85" fill="#262626"/>
<circle cx="345.87" cy="606" r="1.85" fill="#262626"/>
<circle cx="345.87" cy="611" r="1.85" fill="#262626"/>
<circle cx="345.87" cy="618" r="1.85" fill="#262626"/>
<line x1="345.87" y1="524.2" x2="345.87" y2="547.5" stroke="#262626" stroke-width="1.4"/>
<line x1="345.87" y1="566.5" x2="345.87" y2="595.8" stroke="#262626" stroke-width="1.4"/>
<rect x="342.14" y="547.5" width="7.45" height="19" fill="#f4a460" stroke="#262626" stroke-width="1.25"/>
<line x1="342.14" y1="557.2" x2="349.59" y2="557.2" stroke="#262626" stroke-width="2.3"/>
<circle cx="354.31" cy="510" r="1.85" fill="#262626"/>
<circle cx="354.31" cy="512.1" r="1.85" fill="#262626"/>
<circle cx="354.31" cy="514.2" r="1.85" fill="#262626"/>
<circle cx="354.31" cy="601.1" r="1.85" fill="#262626"/>
<circle cx="354.31" cy="604.2" r="1.85" fill="#262626"/>
<line x1="354.31" y1="522.7" x2="354.31" y2="551.7" stroke="#262626" stroke-width="1.4"/>
<line x1="354.31" y1="570.8" x2="354.31" y2="597.9" stroke="#262626" stroke-width="1.4"/>
<rect x="350.59" y="551.7" width="7.45" height="19.1" fill="#ec874a" stroke="#262626" stroke-width="1.25"/>
<line x1="350.59" y1="561.9" x2="358.03" y2="561.9" stroke="#262626" stroke-width="2.3"/>
<circle cx="362.75" cy="508.9" r="1.85" fill="#262626"/>
<circle cx="362.75" cy="611.7" r="1.85" fill="#262626"/>
<circle cx="362.75" cy="614.85" r="1.85" fill="#262626"/>
<circle cx="362.75" cy="618" r="1.85" fill="#262626"/>
<line x1="362.75" y1="521.7" x2="362.75" y2="553.4" stroke="#262626" stroke-width="1.4"/>
<line x1="362.75" y1="576.1" x2="362.75" y2="608" stroke="#262626" stroke-width="1.4"/>
<rect x="359.03" y="553.4" width="7.45" height="22.7" fill="#073b3a" stroke="#262626" stroke-width="1.25"/>
<line x1="359.03" y1="565.7" x2="366.48" y2="565.7" stroke="#262626" stroke-width="2.3"/>
<circle cx="371.2" cy="500.5" r="1.85" fill="#262626"/>
<circle cx="371.2" cy="514.7" r="1.85" fill="#262626"/>
<line x1="371.2" y1="517.8" x2="371.2" y2="550.7" stroke="#262626" stroke-width="1.4"/>
<line x1="371.2" y1="574" x2="371.2" y2="606.8" stroke="#262626" stroke-width="1.4"/>
<rect x="367.48" y="550.7" width="7.45" height="23.3" fill="#006400" stroke="#262626" stroke-width="1.25"/>
<line x1="367.48" y1="562.5" x2="374.92" y2="562.5" stroke="#262626" stroke-width="2.3"/>
<circle cx="379.64" cy="524.8" r="1.85" fill="#262626"/>
<line x1="379.64" y1="535.4" x2="379.64" y2="563" stroke="#262626" stroke-width="1.4"/>
<line x1="379.64" y1="582.6" x2="379.64" y2="607.4" stroke="#262626" stroke-width="1.4"/>
<rect x="375.92" y="563" width="7.45" height="19.6" fill="#35b515" stroke="#262626" stroke-width="1.25"/>
<line x1="375.92" y1="572.5" x2="383.37" y2="572.5" stroke="#262626" stroke-width="2.3"/>
<circle cx="388.09" cy="518.5" r="1.85" fill="#262626"/>
<circle cx="388.09" cy="600.4" r="1.85" fill="#262626"/>
<circle cx="388.09" cy="602.55" r="1.85" fill="#262626"/>
<circle cx="388.09" cy="604.7" r="1.85" fill="#262626"/>
<line x1="388.09" y1="528" x2="388.09" y2="550.9" stroke="#262626" stroke-width="1.4"/>
<line x1="388.09" y1="568.2" x2="388.09" y2="592.6" stroke="#262626" stroke-width="1.4"/>
<rect x="384.37" y="550.9" width="7.45" height="17.3" fill="#9acd32" stroke="#262626" stroke-width="1.25"/>
<line x1="384.37" y1="561.5" x2="391.81" y2="561.5" stroke="#262626" stroke-width="2.3"/>
<circle cx="396.53" cy="517" r="1.85" fill="#262626"/>
<line x1="396.53" y1="532.2" x2="396.53" y2="559.3" stroke="#262626" stroke-width="1.4"/>
<line x1="396.53" y1="580.5" x2="396.53" y2="603.8" stroke="#262626" stroke-width="1.4"/>
<rect x="392.81" y="559.3" width="7.45" height="21.2" fill="#8b5d4b" stroke="#262626" stroke-width="1.25"/>
<line x1="392.81" y1="569.7" x2="400.26" y2="569.7" stroke="#262626" stroke-width="2.3"/>
<line x1="404.98" y1="533.9" x2="404.98" y2="556" stroke="#262626" stroke-width="1.4"/>
<line x1="404.98" y1="578.4" x2="404.98" y2="590.5" stroke="#262626" stroke-width="1.4"/>
<rect x="401.26" y="556" width="7.45" height="22.4" fill="#51362f" stroke="#262626" stroke-width="1.25"/>
<line x1="401.26" y1="564" x2="408.7" y2="564" stroke="#262626" stroke-width="2.3"/>
<circle cx="413.43" cy="524.8" r="1.85" fill="#262626"/>
<circle cx="413.43" cy="526.95" r="1.85" fill="#262626"/>
<circle cx="413.43" cy="529.1" r="1.85" fill="#262626"/>
<line x1="413.43" y1="538.6" x2="413.43" y2="561.5" stroke="#262626" stroke-width="1.4"/>
<line x1="413.43" y1="582" x2="413.43" y2="601.7" stroke="#262626" stroke-width="1.4"/>
<rect x="409.7" y="561.5" width="7.45" height="20.5" fill="#4c1a8c" stroke="#262626" stroke-width="1.25"/>
<line x1="409.7" y1="572.5" x2="417.15" y2="572.5" stroke="#262626" stroke-width="2.3"/>
<circle cx="421.87" cy="518.5" r="1.85" fill="#262626"/>
<circle cx="421.87" cy="521.5" r="1.85" fill="#262626"/>
<circle cx="421.87" cy="524.5" r="1.85" fill="#262626"/>
<circle cx="421.87" cy="527.5" r="1.85" fill="#262626"/>
<circle cx="421.87" cy="615.3" r="1.85" fill="#262626"/>
<line x1="421.87" y1="530.1" x2="421.87" y2="558.7" stroke="#262626" stroke-width="1.4"/>
<line x1="421.87" y1="578.4" x2="421.87" y2="601.7" stroke="#262626" stroke-width="1.4"/>
<rect x="418.15" y="558.7" width="7.45" height="19.7" fill="#8b008b" stroke="#262626" stroke-width="1.25"/>
<line x1="418.15" y1="569.3" x2="425.59" y2="569.3" stroke="#262626" stroke-width="2.3"/>
<circle cx="430.31" cy="507.9" r="1.85" fill="#262626"/>
<line x1="430.31" y1="519.1" x2="430.31" y2="548.5" stroke="#262626" stroke-width="1.4"/>
<line x1="430.31" y1="572.1" x2="430.31" y2="600" stroke="#262626" stroke-width="1.4"/>
<rect x="426.59" y="548.5" width="7.45" height="23.6" fill="#ec6cec" stroke="#262626" stroke-width="1.25"/>
<line x1="426.59" y1="560.2" x2="434.04" y2="560.2" stroke="#262626" stroke-width="2.3"/>
<circle cx="490.4" cy="431.6" r="1.85" fill="#262626"/>
<circle cx="490.4" cy="434.17" r="1.85" fill="#262626"/>
<circle cx="490.4" cy="436.73" r="1.85" fill="#262626"/>
<circle cx="490.4" cy="439.3" r="1.85" fill="#262626"/>
<circle cx="490.4" cy="441.87" r="1.85" fill="#262626"/>
<circle cx="490.4" cy="444.43" r="1.85" fill="#262626"/>
<circle cx="490.4" cy="447" r="1.85" fill="#262626"/>
<circle cx="490.4" cy="449.57" r="1.85" fill="#262626"/>
<circle cx="490.4" cy="452.13" r="1.85" fill="#262626"/>
<circle cx="490.4" cy="454.7" r="1.85" fill="#262626"/>
<circle cx="490.4" cy="457.27" r="1.85" fill="#262626"/>
<circle cx="490.4" cy="459.83" r="1.85" fill="#262626"/>
<circle cx="490.4" cy="462.4" r="1.85" fill="#262626"/>
<circle cx="490.4" cy="596.8" r="1.85" fill="#262626"/>
<circle cx="490.4" cy="599.23" r="1.85" fill="#262626"/>
<circle cx="490.4" cy="601.66" r="1.85" fill="#262626"/>
<circle cx="490.4" cy="604.09" r="1.85" fill="#262626"/>
<circle cx="490.4" cy="606.51" r="1.85" fill="#262626"/>
<circle cx="490.4" cy="608.94" r="1.85" fill="#262626"/>
<circle cx="490.4" cy="611.37" r="1.85" fill="#262626"/>
<circle cx="490.4" cy="613.8" r="1.85" fill="#262626"/>
<line x1="490.4" y1="463.4" x2="490.4" y2="512.8" stroke="#262626" stroke-width="1.4"/>
<line x1="490.4" y1="546.6" x2="490.4" y2="595.8" stroke="#262626" stroke-width="1.4"/>
<rect x="485.79" y="512.8" width="9.21" height="33.8" fill="#333333" stroke="#262626" stroke-width="1.25"/>
<line x1="485.79" y1="529.5" x2="495" y2="529.5" stroke="#262626" stroke-width="2.3"/>
<circle cx="500.61" cy="486.7" r="1.85" fill="#262626"/>
<circle cx="500.61" cy="579.9" r="1.85" fill="#262626"/>
<line x1="500.61" y1="489.9" x2="500.61" y2="518.9" stroke="#262626" stroke-width="1.4"/>
<line x1="500.61" y1="539.7" x2="500.61" y2="555.5" stroke="#262626" stroke-width="1.4"/>
<rect x="496" y="518.9" width="9.21" height="20.8" fill="#8b0000" stroke="#262626" stroke-width="1.25"/>
<line x1="496" y1="530.1" x2="505.21" y2="530.1" stroke="#262626" stroke-width="2.3"/>
<line x1="510.82" y1="480.4" x2="510.82" y2="510.4" stroke="#262626" stroke-width="1.4"/>
<line x1="510.82" y1="540.1" x2="510.82" y2="556.6" stroke="#262626" stroke-width="1.4"/>
<rect x="506.21" y="510.4" width="9.21" height="29.7" fill="#ff0000" stroke="#262626" stroke-width="1.25"/>
<line x1="506.21" y1="530.5" x2="515.42" y2="530.5" stroke="#262626" stroke-width="2.3"/>
<circle cx="521.03" cy="450.7" r="1.85" fill="#262626"/>
<line x1="521.03" y1="478.2" x2="521.03" y2="513.2" stroke="#262626" stroke-width="1.4"/>
<line x1="521.03" y1="546.4" x2="521.03" y2="566.1" stroke="#262626" stroke-width="1.4"/>
<rect x="516.42" y="513.2" width="9.21" height="33.2" fill="#f26d7d" stroke="#262626" stroke-width="1.25"/>
<line x1="516.42" y1="539.2" x2="525.63" y2="539.2" stroke="#262626" stroke-width="2.3"/>
<circle cx="531.24" cy="441.8" r="1.85" fill="#262626"/>
<line x1="531.24" y1="458.1" x2="531.24" y2="497.7" stroke="#262626" stroke-width="1.4"/>
<line x1="531.24" y1="533.7" x2="531.24" y2="566.1" stroke="#262626" stroke-width="1.4"/>
<rect x="526.63" y="497.7" width="9.21" height="36" fill="#ffe4e1" stroke="#262626" stroke-width="1.25"/>
<line x1="526.63" y1="516.4" x2="535.85" y2="516.4" stroke="#262626" stroke-width="2.3"/>
<circle cx="541.45" cy="443.7" r="1.85" fill="#262626"/>
<circle cx="541.45" cy="613.8" r="1.85" fill="#262626"/>
<line x1="541.45" y1="461.3" x2="541.45" y2="505.8" stroke="#262626" stroke-width="1.4"/>
<line x1="541.45" y1="542.8" x2="541.45" y2="587.7" stroke="#262626" stroke-width="1.4"/>
<rect x="536.84" y="505.8" width="9.21" height="37" fill="#f4a460" stroke="#262626" stroke-width="1.25"/>
<line x1="536.84" y1="524.4" x2="546.05" y2="524.4" stroke="#262626" stroke-width="2.3"/>
<circle cx="551.66" cy="434.8" r="1.85" fill="#262626"/>
<circle cx="551.66" cy="437.45" r="1.85" fill="#262626"/>
<circle cx="551.66" cy="440.1" r="1.85" fill="#262626"/>
<circle cx="551.66" cy="449.6" r="1.85" fill="#262626"/>
<circle cx="551.66" cy="452.08" r="1.85" fill="#262626"/>
<circle cx="551.66" cy="454.57" r="1.85" fill="#262626"/>
<circle cx="551.66" cy="457.05" r="1.85" fill="#262626"/>
<circle cx="551.66" cy="459.53" r="1.85" fill="#262626"/>
<circle cx="551.66" cy="462.02" r="1.85" fill="#262626"/>
<circle cx="551.66" cy="464.5" r="1.85" fill="#262626"/>
<circle cx="551.66" cy="591.1" r="1.85" fill="#262626"/>
<line x1="551.66" y1="465.5" x2="551.66" y2="512.1" stroke="#262626" stroke-width="1.4"/>
<line x1="551.66" y1="542.8" x2="551.66" y2="589.4" stroke="#262626" stroke-width="1.4"/>
<rect x="547.05" y="512.1" width="9.21" height="30.7" fill="#073b3a" stroke="#262626" stroke-width="1.25"/>
<line x1="547.05" y1="528.4" x2="556.26" y2="528.4" stroke="#262626" stroke-width="2.3"/>
<circle cx="561.87" cy="446.5" r="1.85" fill="#262626"/>
<circle cx="561.87" cy="449.04" r="1.85" fill="#262626"/>
<circle cx="561.87" cy="451.58" r="1.85" fill="#262626"/>
<circle cx="561.87" cy="454.12" r="1.85" fill="#262626"/>
<circle cx="561.87" cy="456.66" r="1.85" fill="#262626"/>
<circle cx="561.87" cy="459.2" r="1.85" fill="#262626"/>
<line x1="561.87" y1="464.5" x2="561.87" y2="512.1" stroke="#262626" stroke-width="1.4"/>
<line x1="561.87" y1="547.1" x2="561.87" y2="596.8" stroke="#262626" stroke-width="1.4"/>
<rect x="557.26" y="512.1" width="9.21" height="35" fill="#006400" stroke="#262626" stroke-width="1.25"/>
<line x1="557.26" y1="529.1" x2="566.48" y2="529.1" stroke="#262626" stroke-width="2.3"/>
<line x1="572.08" y1="460.7" x2="572.08" y2="500.5" stroke="#262626" stroke-width="1.4"/>
<line x1="572.08" y1="535" x2="572.08" y2="564" stroke="#262626" stroke-width="1.4"/>
<rect x="567.47" y="500.5" width="9.21" height="34.5" fill="#35b515" stroke="#262626" stroke-width="1.25"/>
<line x1="567.47" y1="516.4" x2="576.68" y2="516.4" stroke="#262626" stroke-width="2.3"/>
<circle cx="582.29" cy="430.6" r="1.85" fill="#262626"/>
<circle cx="582.29" cy="432.95" r="1.85" fill="#262626"/>
<circle cx="582.29" cy="435.3" r="1.85" fill="#262626"/>
<circle cx="582.29" cy="437.65" r="1.85" fill="#262626"/>
<circle cx="582.29" cy="440" r="1.85" fill="#262626"/>
<circle cx="582.29" cy="445" r="1.85" fill="#262626"/>
<circle cx="582.29" cy="447.84" r="1.85" fill="#262626"/>
<circle cx="582.29" cy="450.68" r="1.85" fill="#262626"/>
<circle cx="582.29" cy="453.52" r="1.85" fill="#262626"/>
<circle cx="582.29" cy="456.36" r="1.85" fill="#262626"/>
<circle cx="582.29" cy="459.2" r="1.85" fill="#262626"/>
<circle cx="582.29" cy="468.7" r="1.85" fill="#262626"/>
<circle cx="582.29" cy="584.1" r="1.85" fill="#262626"/>
<line x1="582.29" y1="470.8" x2="582.29" y2="512.5" stroke="#262626" stroke-width="1.4"/>
<line x1="582.29" y1="541.1" x2="582.29" y2="577.8" stroke="#262626" stroke-width="1.4"/>
<rect x="577.68" y="512.5" width="9.21" height="28.6" fill="#9acd32" stroke="#262626" stroke-width="1.25"/>
<line x1="577.68" y1="525.3" x2="586.89" y2="525.3" stroke="#262626" stroke-width="2.3"/>
<line x1="592.5" y1="464.5" x2="592.5" y2="481.4" stroke="#262626" stroke-width="1.4"/>
<line x1="592.5" y1="521.2" x2="592.5" y2="572.1" stroke="#262626" stroke-width="1.4"/>
<rect x="587.89" y="481.4" width="9.21" height="39.8" fill="#8b5d4b" stroke="#262626" stroke-width="1.25"/>
<line x1="587.89" y1="499.4" x2="597.11" y2="499.4" stroke="#262626" stroke-width="2.3"/>
<circle cx="602.71" cy="449.2" r="1.85" fill="#262626"/>
<circle cx="602.71" cy="457.7" r="1.85" fill="#262626"/>
<circle cx="602.71" cy="465.5" r="1.85" fill="#262626"/>
<line x1="602.71" y1="470.8" x2="602.71" y2="513.6" stroke="#262626" stroke-width="1.4"/>
<line x1="602.71" y1="544.5" x2="602.71" y2="583.1" stroke="#262626" stroke-width="1.4"/>
<rect x="598.11" y="513.6" width="9.21" height="30.9" fill="#4c1a8c" stroke="#262626" stroke-width="1.25"/>
<line x1="598.11" y1="528" x2="607.32" y2="528" stroke="#262626" stroke-width="2.3"/>
<circle cx="612.92" cy="438.6" r="1.85" fill="#262626"/>
<circle cx="612.92" cy="441.4" r="1.85" fill="#262626"/>
<circle cx="612.92" cy="444.2" r="1.85" fill="#262626"/>
<circle cx="612.92" cy="447" r="1.85" fill="#262626"/>
<circle cx="612.92" cy="452" r="1.85" fill="#262626"/>
<circle cx="612.92" cy="454.8" r="1.85" fill="#262626"/>
<circle cx="612.92" cy="457.6" r="1.85" fill="#262626"/>
<circle cx="612.92" cy="460.4" r="1.85" fill="#262626"/>
<circle cx="612.92" cy="463.2" r="1.85" fill="#262626"/>
<circle cx="612.92" cy="466" r="1.85" fill="#262626"/>
<circle cx="612.92" cy="468.8" r="1.85" fill="#262626"/>
<line x1="612.92" y1="469.8" x2="612.92" y2="518.5" stroke="#262626" stroke-width="1.4"/>
<line x1="612.92" y1="551.7" x2="612.92" y2="598.3" stroke="#262626" stroke-width="1.4"/>
<rect x="608.31" y="518.5" width="9.21" height="33.2" fill="#8b008b" stroke="#262626" stroke-width="1.25"/>
<line x1="608.31" y1="536.5" x2="617.52" y2="536.5" stroke="#262626" stroke-width="2.3"/>
<circle cx="623.13" cy="458.1" r="1.85" fill="#262626"/>
<circle cx="623.13" cy="460.4" r="1.85" fill="#262626"/>
<circle cx="623.13" cy="462.7" r="1.85" fill="#262626"/>
<circle cx="623.13" cy="465" r="1.85" fill="#262626"/>
<circle cx="623.13" cy="471" r="1.85" fill="#262626"/>
<circle cx="623.13" cy="476.1" r="1.85" fill="#262626"/>
<circle cx="623.13" cy="610.2" r="1.85" fill="#262626"/>
<line x1="623.13" y1="479.7" x2="623.13" y2="525.9" stroke="#262626" stroke-width="1.4"/>
<line x1="623.13" y1="558.1" x2="623.13" y2="603.8" stroke="#262626" stroke-width="1.4"/>
<rect x="618.52" y="525.9" width="9.21" height="32.2" fill="#ec6cec" stroke="#262626" stroke-width="1.25"/>
<line x1="618.52" y1="543.9" x2="627.74" y2="543.9" stroke="#262626" stroke-width="2.3"/>
<line x1="633.34" y1="477.2" x2="633.34" y2="515.7" stroke="#262626" stroke-width="1.4"/>
<line x1="633.34" y1="542.8" x2="633.34" y2="575.7" stroke="#262626" stroke-width="1.4"/>
<rect x="628.73" y="515.7" width="9.21" height="27.1" fill="#ffc0cb" stroke="#262626" stroke-width="1.25"/>
<line x1="628.73" y1="524.2" x2="637.94" y2="524.2" stroke="#262626" stroke-width="2.3"/>
<line x1="286.75" y1="663.3" x2="286.75" y2="691.3" stroke="#262626" stroke-width="1.4"/>
<line x1="286.75" y1="755.3" x2="286.75" y2="816.7" stroke="#262626" stroke-width="1.4"/>
<rect x="283.03" y="691.3" width="7.45" height="64" fill="#333333" stroke="#262626" stroke-width="1.25"/>
<line x1="283.03" y1="716.1" x2="290.47" y2="716.1" stroke="#262626" stroke-width="2.3"/>
<line x1="295.19" y1="675.4" x2="295.19" y2="709.3" stroke="#262626" stroke-width="1.4"/>
<line x1="295.19" y1="747" x2="295.19" y2="792.5" stroke="#262626" stroke-width="1.4"/>
<rect x="291.47" y="709.3" width="7.45" height="37.7" fill="#8b0000" stroke="#262626" stroke-width="1.25"/>
<line x1="291.47" y1="723.7" x2="298.92" y2="723.7" stroke="#262626" stroke-width="2.3"/>
<circle cx="303.64" cy="734.3" r="1.85" fill="#262626"/>
<circle cx="303.64" cy="746.4" r="1.85" fill="#262626"/>
<circle cx="303.64" cy="752.4" r="1.85" fill="#262626"/>
<line x1="303.64" y1="665.2" x2="303.64" y2="671.2" stroke="#262626" stroke-width="1.4"/>
<line x1="303.64" y1="696" x2="303.64" y2="722.6" stroke="#262626" stroke-width="1.4"/>
<rect x="299.92" y="671.2" width="7.45" height="24.8" fill="#ff0000" stroke="#262626" stroke-width="1.25"/>
<line x1="299.92" y1="679" x2="307.36" y2="679" stroke="#262626" stroke-width="2.3"/>
<circle cx="312.08" cy="759.7" r="1.85" fill="#262626"/>
<circle cx="312.08" cy="768.6" r="1.85" fill="#262626"/>
<circle cx="312.08" cy="783.8" r="1.85" fill="#262626"/>
<line x1="312.08" y1="665.9" x2="312.08" y2="679.6" stroke="#262626" stroke-width="1.4"/>
<line x1="312.08" y1="710.8" x2="312.08" y2="754.4" stroke="#262626" stroke-width="1.4"/>
<rect x="308.36" y="679.6" width="7.45" height="31.2" fill="#f26d7d" stroke="#262626" stroke-width="1.25"/>
<line x1="308.36" y1="691.9" x2="315.81" y2="691.9" stroke="#262626" stroke-width="2.3"/>
<circle cx="320.53" cy="735.8" r="1.85" fill="#262626"/>
<circle cx="320.53" cy="738.45" r="1.85" fill="#262626"/>
<circle cx="320.53" cy="741.1" r="1.85" fill="#262626"/>
<circle cx="320.53" cy="743.75" r="1.85" fill="#262626"/>
<circle cx="320.53" cy="746.4" r="1.85" fill="#262626"/>
<circle cx="320.53" cy="753.8" r="1.85" fill="#262626"/>
<circle cx="320.53" cy="756.54" r="1.85" fill="#262626"/>
<circle cx="320.53" cy="759.28" r="1.85" fill="#262626"/>
<circle cx="320.53" cy="762.02" r="1.85" fill="#262626"/>
<circle cx="320.53" cy="764.76" r="1.85" fill="#262626"/>
<circle cx="320.53" cy="767.5" r="1.85" fill="#262626"/>
<circle cx="320.53" cy="776" r="1.85" fill="#262626"/>
<circle cx="320.53" cy="778.1" r="1.85" fill="#262626"/>
<circle cx="320.53" cy="785.5" r="1.85" fill="#262626"/>
<line x1="320.53" y1="663.3" x2="320.53" y2="676.9" stroke="#262626" stroke-width="1.4"/>
<line x1="320.53" y1="699.3" x2="320.53" y2="730.5" stroke="#262626" stroke-width="1.4"/>
<rect x="316.81" y="676.9" width="7.45" height="22.4" fill="#ffe4e1" stroke="#262626" stroke-width="1.25"/>
<line x1="316.81" y1="689.2" x2="324.25" y2="689.2" stroke="#262626" stroke-width="2.3"/>
<line x1="328.98" y1="698.1" x2="328.98" y2="729.8" stroke="#262626" stroke-width="1.4"/>
<line x1="328.98" y1="768.6" x2="328.98" y2="804" stroke="#262626" stroke-width="1.4"/>
<rect x="325.25" y="729.8" width="7.45" height="38.8" fill="#f0e68c" stroke="#262626" stroke-width="1.25"/>
<line x1="325.25" y1="753.3" x2="332.7" y2="753.3" stroke="#262626" stroke-width="2.3"/>
<line x1="337.42" y1="668" x2="337.42" y2="709.3" stroke="#262626" stroke-width="1.4"/>
<line x1="337.42" y1="763.3" x2="337.42" y2="804" stroke="#262626" stroke-width="1.4"/>
<rect x="333.7" y="709.3" width="7.45" height="54" fill="#ffa500" stroke="#262626" stroke-width="1.25"/>
<line x1="333.7" y1="742.1" x2="341.14" y2="742.1" stroke="#262626" stroke-width="2.3"/>
<line x1="345.87" y1="671.8" x2="345.87" y2="720.5" stroke="#262626" stroke-width="1.4"/>
<line x1="345.87" y1="777.5" x2="345.87" y2="807.4" stroke="#262626" stroke-width="1.4"/>
<rect x="342.14" y="720.5" width="7.45" height="57" fill="#f4a460" stroke="#262626" stroke-width="1.25"/>
<line x1="342.14" y1="742.1" x2="349.59" y2="742.1" stroke="#262626" stroke-width="2.3"/>
<circle cx="354.31" cy="805.2" r="1.85" fill="#262626"/>
<line x1="354.31" y1="664.8" x2="354.31" y2="687.5" stroke="#262626" stroke-width="1.4"/>
<line x1="354.31" y1="732.6" x2="354.31" y2="798" stroke="#262626" stroke-width="1.4"/>
<rect x="350.59" y="687.5" width="7.45" height="45.1" fill="#ec874a" stroke="#262626" stroke-width="1.25"/>
<line x1="350.59" y1="700.2" x2="358.03" y2="700.2" stroke="#262626" stroke-width="2.3"/>
<line x1="362.75" y1="685.4" x2="362.75" y2="731.5" stroke="#262626" stroke-width="1.4"/>
<line x1="362.75" y1="774.3" x2="362.75" y2="813.1" stroke="#262626" stroke-width="1.4"/>
<rect x="359.03" y="731.5" width="7.45" height="42.8" fill="#073b3a" stroke="#262626" stroke-width="1.25"/>
<line x1="359.03" y1="757.4" x2="366.48" y2="757.4" stroke="#262626" stroke-width="2.3"/>
<line x1="371.2" y1="676.9" x2="371.2" y2="730.5" stroke="#262626" stroke-width="1.4"/>
<line x1="371.2" y1="771.8" x2="371.2" y2="805.2" stroke="#262626" stroke-width="1.4"/>
<rect x="367.48" y="730.5" width="7.45" height="41.3" fill="#006400" stroke="#262626" stroke-width="1.25"/>
<line x1="367.48" y1="751.2" x2="374.92" y2="751.2" stroke="#262626" stroke-width="2.3"/>
<circle cx="379.64" cy="718.8" r="1.85" fill="#262626"/>
<circle cx="379.64" cy="721.4" r="1.85" fill="#262626"/>
<circle cx="379.64" cy="724" r="1.85" fill="#262626"/>
<circle cx="379.64" cy="726.6" r="1.85" fill="#262626"/>
<circle cx="379.64" cy="729.2" r="1.85" fill="#262626"/>
<circle cx="379.64" cy="731.8" r="1.85" fill="#262626"/>
<circle cx="379.64" cy="734.4" r="1.85" fill="#262626"/>
<circle cx="379.64" cy="737" r="1.85" fill="#262626"/>
<circle cx="379.64" cy="739.6" r="1.85" fill="#262626"/>
<circle cx="379.64" cy="742.2" r="1.85" fill="#262626"/>
<circle cx="379.64" cy="744.8" r="1.85" fill="#262626"/>
<circle cx="379.64" cy="747.4" r="1.85" fill="#262626"/>
<circle cx="379.64" cy="758" r="1.85" fill="#262626"/>
<circle cx="379.64" cy="763.3" r="1.85" fill="#262626"/>
<circle cx="379.64" cy="769.2" r="1.85" fill="#262626"/>
<circle cx="379.64" cy="781.7" r="1.85" fill="#262626"/>
<line x1="379.64" y1="667.6" x2="379.64" y2="677.5" stroke="#262626" stroke-width="1.4"/>
<line x1="379.64" y1="693.4" x2="379.64" y2="716.7" stroke="#262626" stroke-width="1.4"/>
<rect x="375.92" y="677.5" width="7.45" height="15.9" fill="#35b515" stroke="#262626" stroke-width="1.25"/>
<line x1="375.92" y1="683.2" x2="383.37" y2="683.2" stroke="#262626" stroke-width="2.3"/>
<circle cx="388.09" cy="748" r="1.85" fill="#262626"/>
<circle cx="388.09" cy="751" r="1.85" fill="#262626"/>
<circle cx="388.09" cy="754" r="1.85" fill="#262626"/>
<circle cx="388.09" cy="757" r="1.85" fill="#262626"/>
<circle cx="388.09" cy="762.2" r="1.85" fill="#262626"/>
<circle cx="388.09" cy="778.1" r="1.85" fill="#262626"/>
<circle cx="388.09" cy="791.3" r="1.85" fill="#262626"/>
<line x1="388.09" y1="671.2" x2="388.09" y2="689.6" stroke="#262626" stroke-width="1.4"/>
<line x1="388.09" y1="712" x2="388.09" y2="741.5" stroke="#262626" stroke-width="1.4"/>
<rect x="384.37" y="689.6" width="7.45" height="22.4" fill="#9acd32" stroke="#262626" stroke-width="1.25"/>
<line x1="384.37" y1="697.2" x2="391.81" y2="697.2" stroke="#262626" stroke-width="2.3"/>
<circle cx="396.53" cy="716.3" r="1.85" fill="#262626"/>
<line x1="396.53" y1="666.3" x2="396.53" y2="672.7" stroke="#262626" stroke-width="1.4"/>
<line x1="396.53" y1="688.8" x2="396.53" y2="709.3" stroke="#262626" stroke-width="1.4"/>
<rect x="392.81" y="672.7" width="7.45" height="16.1" fill="#8b5d4b" stroke="#262626" stroke-width="1.25"/>
<line x1="392.81" y1="679.6" x2="400.26" y2="679.6" stroke="#262626" stroke-width="2.3"/>
<circle cx="404.98" cy="729.4" r="1.85" fill="#262626"/>
<line x1="404.98" y1="667" x2="404.98" y2="678.2" stroke="#262626" stroke-width="1.4"/>
<line x1="404.98" y1="693.4" x2="404.98" y2="708.2" stroke="#262626" stroke-width="1.4"/>
<rect x="401.26" y="678.2" width="7.45" height="15.2" fill="#51362f" stroke="#262626" stroke-width="1.25"/>
<line x1="401.26" y1="686.4" x2="408.7" y2="686.4" stroke="#262626" stroke-width="2.3"/>
<line x1="413.43" y1="683.2" x2="413.43" y2="714.2" stroke="#262626" stroke-width="1.4"/>
<line x1="413.43" y1="761.6" x2="413.43" y2="816.7" stroke="#262626" stroke-width="1.4"/>
<rect x="409.7" y="714.2" width="7.45" height="47.4" fill="#4c1a8c" stroke="#262626" stroke-width="1.25"/>
<line x1="409.7" y1="738.9" x2="417.15" y2="738.9" stroke="#262626" stroke-width="2.3"/>
<line x1="421.87" y1="688.8" x2="421.87" y2="710.8" stroke="#262626" stroke-width="1.4"/>
<line x1="421.87" y1="761.6" x2="421.87" y2="813.7" stroke="#262626" stroke-width="1.4"/>
<rect x="418.15" y="710.8" width="7.45" height="50.8" fill="#8b008b" stroke="#262626" stroke-width="1.25"/>
<line x1="418.15" y1="736.2" x2="425.59" y2="736.2" stroke="#262626" stroke-width="2.3"/>
<circle cx="430.31" cy="795" r="1.85" fill="#262626"/>
<circle cx="430.31" cy="797.15" r="1.85" fill="#262626"/>
<circle cx="430.31" cy="799.3" r="1.85" fill="#262626"/>
<line x1="430.31" y1="679" x2="430.31" y2="701.5" stroke="#262626" stroke-width="1.4"/>
<line x1="430.31" y1="738.3" x2="430.31" y2="793.4" stroke="#262626" stroke-width="1.4"/>
<rect x="426.59" y="701.5" width="7.45" height="36.8" fill="#ec6cec" stroke="#262626" stroke-width="1.25"/>
<line x1="426.59" y1="715.2" x2="434.04" y2="715.2" stroke="#262626" stroke-width="2.3"/>
<circle cx="490.25" cy="796.1" r="1.85" fill="#262626"/>
<circle cx="490.25" cy="799.02" r="1.85" fill="#262626"/>
<circle cx="490.25" cy="801.95" r="1.85" fill="#262626"/>
<circle cx="490.25" cy="804.88" r="1.85" fill="#262626"/>
<circle cx="490.25" cy="807.8" r="1.85" fill="#262626"/>
<line x1="490.25" y1="662.7" x2="490.25" y2="695.1" stroke="#262626" stroke-width="1.4"/>
<line x1="490.25" y1="735.8" x2="490.25" y2="795.1" stroke="#262626" stroke-width="1.4"/>
<rect x="485.64" y="695.1" width="9.21" height="40.7" fill="#333333" stroke="#262626" stroke-width="1.25"/>
<line x1="485.64" y1="712.5" x2="494.85" y2="712.5" stroke="#262626" stroke-width="2.3"/>
<circle cx="500.46" cy="677.5" r="1.85" fill="#262626"/>
<circle cx="500.46" cy="680.33" r="1.85" fill="#262626"/>
<circle cx="500.46" cy="683.17" r="1.85" fill="#262626"/>
<circle cx="500.46" cy="686" r="1.85" fill="#262626"/>
<circle cx="500.46" cy="696.6" r="1.85" fill="#262626"/>
<line x1="500.46" y1="710.8" x2="500.46" y2="740.6" stroke="#262626" stroke-width="1.4"/>
<line x1="500.46" y1="767.1" x2="500.46" y2="783.4" stroke="#262626" stroke-width="1.4"/>
<rect x="495.85" y="740.6" width="9.21" height="26.5" fill="#8b0000" stroke="#262626" stroke-width="1.25"/>
<line x1="495.85" y1="754.8" x2="505.06" y2="754.8" stroke="#262626" stroke-width="2.3"/>
<line x1="510.67" y1="662.7" x2="510.67" y2="698.1" stroke="#262626" stroke-width="1.4"/>
<line x1="510.67" y1="743.6" x2="510.67" y2="764.4" stroke="#262626" stroke-width="1.4"/>
<rect x="506.06" y="698.1" width="9.21" height="45.5" fill="#ff0000" stroke="#262626" stroke-width="1.25"/>
<line x1="506.06" y1="734.3" x2="515.27" y2="734.3" stroke="#262626" stroke-width="2.3"/>
<circle cx="520.88" cy="681.1" r="1.85" fill="#262626"/>
<circle cx="520.88" cy="691.3" r="1.85" fill="#262626"/>
<circle cx="520.88" cy="694.5" r="1.85" fill="#262626"/>
<line x1="520.88" y1="697" x2="520.88" y2="742.5" stroke="#262626" stroke-width="1.4"/>
<line x1="520.88" y1="775.4" x2="520.88" y2="795.5" stroke="#262626" stroke-width="1.4"/>
<rect x="516.27" y="742.5" width="9.21" height="32.9" fill="#f26d7d" stroke="#262626" stroke-width="1.25"/>
<line x1="516.27" y1="768.2" x2="525.49" y2="768.2" stroke="#262626" stroke-width="2.3"/>
<circle cx="531.09" cy="731.5" r="1.85" fill="#262626"/>
<circle cx="531.09" cy="733.7" r="1.85" fill="#262626"/>
<circle cx="531.09" cy="742.5" r="1.85" fill="#262626"/>
<circle cx="531.09" cy="750.6" r="1.85" fill="#262626"/>
<line x1="531.09" y1="664.2" x2="531.09" y2="684.9" stroke="#262626" stroke-width="1.4"/>
<line x1="531.09" y1="702.9" x2="531.09" y2="723.5" stroke="#262626" stroke-width="1.4"/>
<rect x="526.49" y="684.9" width="9.21" height="18" fill="#ffe4e1" stroke="#262626" stroke-width="1.25"/>
<line x1="526.49" y1="694.1" x2="535.7" y2="694.1" stroke="#262626" stroke-width="2.3"/>
<line x1="541.3" y1="664.2" x2="541.3" y2="699.8" stroke="#262626" stroke-width="1.4"/>
<line x1="541.3" y1="751.7" x2="541.3" y2="798.2" stroke="#262626" stroke-width="1.4"/>
<rect x="536.69" y="699.8" width="9.21" height="51.9" fill="#f4a460" stroke="#262626" stroke-width="1.25"/>
<line x1="536.69" y1="726.2" x2="545.9" y2="726.2" stroke="#262626" stroke-width="2.3"/>
<line x1="551.51" y1="678.2" x2="551.51" y2="708.7" stroke="#262626" stroke-width="1.4"/>
<line x1="551.51" y1="750.2" x2="551.51" y2="805.2" stroke="#262626" stroke-width="1.4"/>
<rect x="546.9" y="708.7" width="9.21" height="41.5" fill="#073b3a" stroke="#262626" stroke-width="1.25"/>
<line x1="546.9" y1="724.5" x2="556.12" y2="724.5" stroke="#262626" stroke-width="2.3"/>
<circle cx="561.72" cy="779.2" r="1.85" fill="#262626"/>
<circle cx="561.72" cy="781.91" r="1.85" fill="#262626"/>
<circle cx="561.72" cy="784.63" r="1.85" fill="#262626"/>
<circle cx="561.72" cy="787.34" r="1.85" fill="#262626"/>
<circle cx="561.72" cy="790.06" r="1.85" fill="#262626"/>
<circle cx="561.72" cy="792.77" r="1.85" fill="#262626"/>
<circle cx="561.72" cy="795.49" r="1.85" fill="#262626"/>
<circle cx="561.72" cy="798.2" r="1.85" fill="#262626"/>
<line x1="561.72" y1="662.7" x2="561.72" y2="700.8" stroke="#262626" stroke-width="1.4"/>
<line x1="561.72" y1="732.6" x2="561.72" y2="779.2" stroke="#262626" stroke-width="1.4"/>
<rect x="557.12" y="700.8" width="9.21" height="31.8" fill="#006400" stroke="#262626" stroke-width="1.25"/>
<line x1="557.12" y1="714.2" x2="566.33" y2="714.2" stroke="#262626" stroke-width="2.3"/>
<line x1="571.93" y1="682.2" x2="571.93" y2="700.8" stroke="#262626" stroke-width="1.4"/>
<line x1="571.93" y1="749.5" x2="571.93" y2="799.3" stroke="#262626" stroke-width="1.4"/>
<rect x="567.33" y="700.8" width="9.21" height="48.7" fill="#35b515" stroke="#262626" stroke-width="1.25"/>
<line x1="567.33" y1="725.2" x2="576.54" y2="725.2" stroke="#262626" stroke-width="2.3"/>
<circle cx="582.14" cy="790.8" r="1.85" fill="#262626"/>
<circle cx="582.14" cy="803.5" r="1.85" fill="#262626"/>
<circle cx="582.14" cy="807.4" r="1.85" fill="#262626"/>
<line x1="582.14" y1="665.5" x2="582.14" y2="691.7" stroke="#262626" stroke-width="1.4"/>
<line x1="582.14" y1="729.8" x2="582.14" y2="786.6" stroke="#262626" stroke-width="1.4"/>
<rect x="577.53" y="691.7" width="9.21" height="38.1" fill="#9acd32" stroke="#262626" stroke-width="1.25"/>
<line x1="577.53" y1="704.4" x2="586.75" y2="704.4" stroke="#262626" stroke-width="2.3"/>
<circle cx="592.35" cy="741.5" r="1.85" fill="#262626"/>
<circle cx="592.35" cy="747" r="1.85" fill="#262626"/>
<circle cx="592.35" cy="760.1" r="1.85" fill="#262626"/>
<line x1="592.35" y1="676.9" x2="592.35" y2="684.5" stroke="#262626" stroke-width="1.4"/>
<line x1="592.35" y1="699.8" x2="592.35" y2="715" stroke="#262626" stroke-width="1.4"/>
<rect x="587.75" y="684.5" width="9.21" height="15.3" fill="#8b5d4b" stroke="#262626" stroke-width="1.25"/>
<line x1="587.75" y1="692.4" x2="596.96" y2="692.4" stroke="#262626" stroke-width="2.3"/>
<circle cx="602.56" cy="666.9" r="1.85" fill="#262626"/>
<circle cx="602.56" cy="783.4" r="1.85" fill="#262626"/>
<line x1="602.56" y1="670.1" x2="602.56" y2="711.4" stroke="#262626" stroke-width="1.4"/>
<line x1="602.56" y1="739.4" x2="602.56" y2="778.1" stroke="#262626" stroke-width="1.4"/>
<rect x="597.95" y="711.4" width="9.21" height="28" fill="#4c1a8c" stroke="#262626" stroke-width="1.25"/>
<line x1="597.95" y1="725.8" x2="607.16" y2="725.8" stroke="#262626" stroke-width="2.3"/>
<circle cx="612.77" cy="747.4" r="1.85" fill="#262626"/>
<circle cx="612.77" cy="749.91" r="1.85" fill="#262626"/>
<circle cx="612.77" cy="752.43" r="1.85" fill="#262626"/>
<circle cx="612.77" cy="754.94" r="1.85" fill="#262626"/>
<circle cx="612.77" cy="757.46" r="1.85" fill="#262626"/>
<circle cx="612.77" cy="759.97" r="1.85" fill="#262626"/>
<circle cx="612.77" cy="762.49" r="1.85" fill="#262626"/>
<circle cx="612.77" cy="765" r="1.85" fill="#262626"/>
<circle cx="612.77" cy="768" r="1.85" fill="#262626"/>
<circle cx="612.77" cy="770.5" r="1.85" fill="#262626"/>
<circle cx="612.77" cy="773" r="1.85" fill="#262626"/>
<circle cx="612.77" cy="775.5" r="1.85" fill="#262626"/>
<circle cx="612.77" cy="778" r="1.85" fill="#262626"/>
<circle cx="612.77" cy="782" r="1.85" fill="#262626"/>
<circle cx="612.77" cy="790" r="1.85" fill="#262626"/>
<line x1="612.77" y1="668.4" x2="612.77" y2="686.6" stroke="#262626" stroke-width="1.4"/>
<line x1="612.77" y1="710.4" x2="612.77" y2="746.4" stroke="#262626" stroke-width="1.4"/>
<rect x="608.16" y="686.6" width="9.21" height="23.8" fill="#8b008b" stroke="#262626" stroke-width="1.25"/>
<line x1="608.16" y1="696" x2="617.38" y2="696" stroke="#262626" stroke-width="2.3"/>
<circle cx="622.98" cy="733.7" r="1.85" fill="#262626"/>
<circle cx="622.98" cy="736.27" r="1.85" fill="#262626"/>
<circle cx="622.98" cy="738.84" r="1.85" fill="#262626"/>
<circle cx="622.98" cy="741.41" r="1.85" fill="#262626"/>
<circle cx="622.98" cy="743.99" r="1.85" fill="#262626"/>
<circle cx="622.98" cy="746.56" r="1.85" fill="#262626"/>
<circle cx="622.98" cy="749.13" r="1.85" fill="#262626"/>
<circle cx="622.98" cy="751.7" r="1.85" fill="#262626"/>
<circle cx="622.98" cy="763.3" r="1.85" fill="#262626"/>
<circle cx="622.98" cy="765.4" r="1.85" fill="#262626"/>
<circle cx="622.98" cy="767.5" r="1.85" fill="#262626"/>
<circle cx="622.98" cy="789.1" r="1.85" fill="#262626"/>
<line x1="622.98" y1="663.3" x2="622.98" y2="678" stroke="#262626" stroke-width="1.4"/>
<line x1="622.98" y1="699.3" x2="622.98" y2="731.5" stroke="#262626" stroke-width="1.4"/>
<rect x="618.38" y="678" width="9.21" height="21.3" fill="#ec6cec" stroke="#262626" stroke-width="1.25"/>
<line x1="618.38" y1="687.5" x2="627.59" y2="687.5" stroke="#262626" stroke-width="2.3"/>
<circle cx="633.19" cy="757" r="1.85" fill="#262626"/>
<line x1="633.19" y1="667.8" x2="633.19" y2="680" stroke="#262626" stroke-width="1.4"/>
<line x1="633.19" y1="692.5" x2="633.19" y2="705.7" stroke="#262626" stroke-width="1.4"/>
<rect x="628.59" y="680" width="9.21" height="12.5" fill="#ffc0cb" stroke="#262626" stroke-width="1.25"/>
<line x1="628.59" y1="685.6" x2="637.8" y2="685.6" stroke="#262626" stroke-width="2.3"/>
<rect x="60.5" y="651.5" width="190.3" height="167.5" fill="#cbdffb"/>
<line x1="60.5" y1="651.4" x2="250.8" y2="651.4" stroke="#c8c8c8" stroke-width="1.2" stroke-dasharray="5.7 5.9" stroke-dashoffset="3.3"/>
<circle cx="98.5" cy="771.1" r="1.85" fill="#262626"/>
<circle cx="98.5" cy="775" r="1.85" fill="#262626"/>
<circle cx="98.5" cy="778.15" r="1.85" fill="#262626"/>
<circle cx="98.5" cy="781.3" r="1.85" fill="#262626"/>
<circle cx="98.5" cy="786.8" r="1.85" fill="#262626"/>
<circle cx="98.5" cy="789.42" r="1.85" fill="#262626"/>
<circle cx="98.5" cy="792.05" r="1.85" fill="#262626"/>
<circle cx="98.5" cy="794.67" r="1.85" fill="#262626"/>
<circle cx="98.5" cy="797.3" r="1.85" fill="#262626"/>
<circle cx="98.5" cy="799.92" r="1.85" fill="#262626"/>
<circle cx="98.5" cy="802.55" r="1.85" fill="#262626"/>
<circle cx="98.5" cy="805.17" r="1.85" fill="#262626"/>
<circle cx="98.5" cy="807.8" r="1.85" fill="#262626"/>
<circle cx="98.5" cy="813.7" r="1.85" fill="#262626"/>
<line x1="98.5" y1="659.6" x2="98.5" y2="682.2" stroke="#262626" stroke-width="1.4"/>
<line x1="98.5" y1="716.9" x2="98.5" y2="766.6" stroke="#262626" stroke-width="1.4"/>
<rect x="94.6" y="682.2" width="7.8" height="34.7" fill="#333333" stroke="#262626" stroke-width="1.25"/>
<line x1="94.6" y1="696.9" x2="102.4" y2="696.9" stroke="#262626" stroke-width="2.3"/>
<line x1="107.3" y1="660.6" x2="107.3" y2="665.1" stroke="#262626" stroke-width="1.4"/>
<line x1="107.3" y1="684.2" x2="107.3" y2="703.2" stroke="#262626" stroke-width="1.4"/>
<rect x="103.4" y="665.1" width="7.8" height="19.1" fill="#f0e68c" stroke="#262626" stroke-width="1.25"/>
<line x1="103.4" y1="671" x2="111.2" y2="671" stroke="#262626" stroke-width="2.3"/>
<circle cx="116.1" cy="736.2" r="1.85" fill="#262626"/>
<circle cx="116.1" cy="743" r="1.85" fill="#262626"/>
<circle cx="116.1" cy="745" r="1.85" fill="#262626"/>
<circle cx="116.1" cy="747" r="1.85" fill="#262626"/>
<line x1="116.1" y1="662" x2="116.1" y2="680.2" stroke="#262626" stroke-width="1.4"/>
<line x1="116.1" y1="702.4" x2="116.1" y2="736.2" stroke="#262626" stroke-width="1.4"/>
<rect x="112.2" y="680.2" width="7.8" height="22.2" fill="#f4a460" stroke="#262626" stroke-width="1.25"/>
<line x1="112.2" y1="690" x2="120" y2="690" stroke="#262626" stroke-width="2.3"/>
<circle cx="124.9" cy="727.3" r="1.85" fill="#262626"/>
<circle cx="124.9" cy="738.1" r="1.85" fill="#262626"/>
<circle cx="124.9" cy="750.3" r="1.85" fill="#262626"/>
<line x1="124.9" y1="663.2" x2="124.9" y2="670" stroke="#262626" stroke-width="1.4"/>
<line x1="124.9" y1="693" x2="124.9" y2="727.3" stroke="#262626" stroke-width="1.4"/>
<rect x="121" y="670" width="7.8" height="23" fill="#073b3a" stroke="#262626" stroke-width="1.25"/>
<line x1="121" y1="683.6" x2="128.8" y2="683.6" stroke="#262626" stroke-width="2.3"/>
<circle cx="133.7" cy="671.4" r="1.85" fill="#262626"/>
<circle cx="133.7" cy="674.35" r="1.85" fill="#262626"/>
<circle cx="133.7" cy="677.3" r="1.85" fill="#262626"/>
<circle cx="133.7" cy="756.8" r="1.85" fill="#262626"/>
<circle cx="133.7" cy="760" r="1.85" fill="#262626"/>
<circle cx="133.7" cy="764.6" r="1.85" fill="#262626"/>
<line x1="133.7" y1="679.3" x2="133.7" y2="706.7" stroke="#262626" stroke-width="1.4"/>
<line x1="133.7" y1="726.4" x2="133.7" y2="749.9" stroke="#262626" stroke-width="1.4"/>
<rect x="129.8" y="706.7" width="7.8" height="19.7" fill="#006400" stroke="#262626" stroke-width="1.25"/>
<line x1="129.8" y1="716.5" x2="137.6" y2="716.5" stroke="#262626" stroke-width="2.3"/>
<circle cx="142.5" cy="732.6" r="1.85" fill="#262626"/>
<line x1="142.5" y1="675.7" x2="142.5" y2="685.1" stroke="#262626" stroke-width="1.4"/>
<line x1="142.5" y1="700.5" x2="142.5" y2="716.9" stroke="#262626" stroke-width="1.4"/>
<rect x="138.6" y="685.1" width="7.8" height="15.4" fill="#35b515" stroke="#262626" stroke-width="1.25"/>
<line x1="138.6" y1="692.6" x2="146.4" y2="692.6" stroke="#262626" stroke-width="2.3"/>
<circle cx="151.3" cy="766.2" r="1.85" fill="#262626"/>
<circle cx="151.3" cy="775.4" r="1.85" fill="#262626"/>
<circle cx="151.3" cy="805.5" r="1.85" fill="#262626"/>
<line x1="151.3" y1="680.2" x2="151.3" y2="698.5" stroke="#262626" stroke-width="1.4"/>
<line x1="151.3" y1="722.8" x2="151.3" y2="752.9" stroke="#262626" stroke-width="1.4"/>
<rect x="147.4" y="698.5" width="7.8" height="24.3" fill="#9acd32" stroke="#262626" stroke-width="1.25"/>
<line x1="147.4" y1="706.3" x2="155.2" y2="706.3" stroke="#262626" stroke-width="2.3"/>
<circle cx="160.1" cy="718.1" r="1.85" fill="#262626"/>
<circle cx="160.1" cy="771.5" r="1.85" fill="#262626"/>
<line x1="160.1" y1="661.6" x2="160.1" y2="664.5" stroke="#262626" stroke-width="1.4"/>
<line x1="160.1" y1="685.5" x2="160.1" y2="703.8" stroke="#262626" stroke-width="1.4"/>
<rect x="156.2" y="664.5" width="7.8" height="21" fill="#8b5d4b" stroke="#262626" stroke-width="1.25"/>
<line x1="156.2" y1="666.5" x2="164" y2="666.5" stroke="#262626" stroke-width="2.3"/>
<circle cx="168.9" cy="663.6" r="1.85" fill="#262626"/>
<circle cx="168.9" cy="666.27" r="1.85" fill="#262626"/>
<circle cx="168.9" cy="668.95" r="1.85" fill="#262626"/>
<circle cx="168.9" cy="671.62" r="1.85" fill="#262626"/>
<circle cx="168.9" cy="674.3" r="1.85" fill="#262626"/>
<circle cx="168.9" cy="707.7" r="1.85" fill="#262626"/>
<circle cx="168.9" cy="710.06" r="1.85" fill="#262626"/>
<circle cx="168.9" cy="712.42" r="1.85" fill="#262626"/>
<circle cx="168.9" cy="714.78" r="1.85" fill="#262626"/>
<circle cx="168.9" cy="717.14" r="1.85" fill="#262626"/>
<circle cx="168.9" cy="719.5" r="1.85" fill="#262626"/>
<line x1="168.9" y1="677.3" x2="168.9" y2="688.1" stroke="#262626" stroke-width="1.4"/>
<line x1="168.9" y1="695.3" x2="168.9" y2="705.8" stroke="#262626" stroke-width="1.4"/>
<rect x="165" y="688.1" width="7.8" height="7.2" fill="#4c1a8c" stroke="#262626" stroke-width="1.25"/>
<line x1="165" y1="692.6" x2="172.8" y2="692.6" stroke="#262626" stroke-width="2.3"/>
<line x1="177.7" y1="664.5" x2="177.7" y2="682.2" stroke="#262626" stroke-width="1.4"/>
<line x1="177.7" y1="709.7" x2="177.7" y2="750.9" stroke="#262626" stroke-width="1.4"/>
<rect x="173.8" y="682.2" width="7.8" height="27.5" fill="#8b008b" stroke="#262626" stroke-width="1.25"/>
<line x1="173.8" y1="692" x2="181.6" y2="692" stroke="#262626" stroke-width="2.3"/>
<circle cx="186.5" cy="780.3" r="1.85" fill="#262626"/>
<line x1="186.5" y1="664.5" x2="186.5" y2="689.5" stroke="#262626" stroke-width="1.4"/>
<line x1="186.5" y1="721.5" x2="186.5" y2="766.6" stroke="#262626" stroke-width="1.4"/>
<rect x="182.6" y="689.5" width="7.8" height="32" fill="#ec6cec" stroke="#262626" stroke-width="1.25"/>
<line x1="182.6" y1="707.7" x2="190.4" y2="707.7" stroke="#262626" stroke-width="2.3"/>
<circle cx="195.3" cy="672.4" r="1.85" fill="#262626"/>
<circle cx="195.3" cy="674.85" r="1.85" fill="#262626"/>
<circle cx="195.3" cy="677.3" r="1.85" fill="#262626"/>
<line x1="195.3" y1="660" x2="195.3" y2="662.6" stroke="#262626" stroke-width="1.4"/>
<line x1="195.3" y1="666.5" x2="195.3" y2="669.4" stroke="#262626" stroke-width="1.4"/>
<rect x="191.4" y="662.6" width="7.8" height="3.9" fill="#8b7b8b" stroke="#262626" stroke-width="1.25"/>
<line x1="191.4" y1="665" x2="199.2" y2="665" stroke="#262626" stroke-width="2.3"/>
<line x1="204.1" y1="661.2" x2="204.1" y2="664.5" stroke="#262626" stroke-width="1.4"/>
<line x1="204.1" y1="672.4" x2="204.1" y2="683.2" stroke="#262626" stroke-width="1.4"/>
<rect x="200.2" y="664.5" width="7.8" height="7.9" fill="#1b2386" stroke="#262626" stroke-width="1.25"/>
<line x1="200.2" y1="669.4" x2="208" y2="669.4" stroke="#262626" stroke-width="2.3"/>
<circle cx="212.9" cy="801" r="1.85" fill="#262626"/>
<circle cx="212.9" cy="803.27" r="1.85" fill="#262626"/>
<circle cx="212.9" cy="805.53" r="1.85" fill="#262626"/>
<circle cx="212.9" cy="807.8" r="1.85" fill="#262626"/>
<line x1="212.9" y1="669.4" x2="212.9" y2="688.7" stroke="#262626" stroke-width="1.4"/>
<line x1="212.9" y1="731.9" x2="212.9" y2="793.5" stroke="#262626" stroke-width="1.4"/>
<rect x="209" y="688.7" width="7.8" height="43.2" fill="#98f5ff" stroke="#262626" stroke-width="1.25"/>
<line x1="209" y1="706.3" x2="216.8" y2="706.3" stroke="#262626" stroke-width="2.3"/>
<rect x="58.85" y="645.2" width="193.5" height="181.1" fill="none" stroke="#0000ff" stroke-width="3.3"/>
<line x1="53.3" y1="651.6" x2="57.2" y2="651.6" stroke="#333333" stroke-width="1.1"/>
<text transform="translate(49.3 651.6) rotate(-90)" text-anchor="middle" font-size="10" font-weight="bold" fill="#0000ff">1.00</text>
<line x1="53.3" y1="686.55" x2="57.2" y2="686.55" stroke="#333333" stroke-width="1.1"/>
<text transform="translate(49.3 686.55) rotate(-90)" text-anchor="middle" font-size="10" font-weight="bold" fill="#0000ff">0.99</text>
<line x1="53.3" y1="721.5" x2="57.2" y2="721.5" stroke="#333333" stroke-width="1.1"/>
<text transform="translate(49.3 721.5) rotate(-90)" text-anchor="middle" font-size="10" font-weight="bold" fill="#0000ff">0.98</text>
<line x1="53.3" y1="756.45" x2="57.2" y2="756.45" stroke="#333333" stroke-width="1.1"/>
<text transform="translate(49.3 756.45) rotate(-90)" text-anchor="middle" font-size="10" font-weight="bold" fill="#0000ff">0.97</text>
<line x1="53.3" y1="791.4" x2="57.2" y2="791.4" stroke="#333333" stroke-width="1.1"/>
<text transform="translate(49.3 791.4) rotate(-90)" text-anchor="middle" font-size="10" font-weight="bold" fill="#0000ff">0.96</text>
<line x1="53.3" y1="826.35" x2="57.2" y2="826.35" stroke="#333333" stroke-width="1.1"/>
<text transform="translate(49.3 826.35) rotate(-90)" text-anchor="middle" font-size="10" font-weight="bold" fill="#0000ff">0.95</text>
<rect x="33.6" y="1.2" width="649.1" height="203.3" fill="none" stroke="#4d4d4d" stroke-width="1.1"/>
<text x="677.4" y="15.7" text-anchor="end" font-size="14.4" fill="#000000">(a)</text>
<rect x="33.6" y="212.3" width="649.1" height="203.2" fill="none" stroke="#4d4d4d" stroke-width="1.1"/>
<text x="677.4" y="227" text-anchor="end" font-size="14.4" fill="#000000">(b)</text>
<rect x="34.1" y="423.2" width="649.1" height="203.2" fill="none" stroke="#4d4d4d" stroke-width="1.1"/>
<text x="677.9" y="437.9" text-anchor="end" font-size="14.4" fill="#000000">(c)</text>
<rect x="34.1" y="634.5" width="649.1" height="202.9" fill="none" stroke="#4d4d4d" stroke-width="1.1"/>
<text x="677.9" y="651.1" text-anchor="end" font-size="14.4" fill="#000000">(d)</text>
<text x="155.5" y="854.6" text-anchor="middle" font-size="12.45" fill="#4d4d4d">Temperature</text>
<text x="358.6" y="854.6" text-anchor="middle" font-size="12.45" fill="#4d4d4d">Precipitation</text>
<text x="561.4" y="854.6" text-anchor="middle" font-size="12.45" fill="#4d4d4d">River flow</text>
<text x="358.7" y="869.5" text-anchor="middle" font-size="12.4" fill="#000000">Time series type</text>
<text x="107.7" y="924.7" text-anchor="middle" font-size="12.2" fill="#000000">Köppen-Geiger</text>
<text x="109.3" y="937.3" text-anchor="middle" font-size="12.5" fill="#000000">climate class</text>
<text x="109.5" y="949.8" text-anchor="middle" font-size="12.45" fill="#000000">(see Figure 1)</text>
<line x1="171.5" y1="899.4" x2="171.5" y2="919.6" stroke="#262626" stroke-width="1.3"/>
<rect x="162.4" y="904" width="18.2" height="11" fill="#333333" stroke="#262626" stroke-width="1.5"/>
<line x1="162.4" y1="909.5" x2="180.6" y2="909.5" stroke="#262626" stroke-width="1.7"/>
<text x="189.4" y="914.1" font-size="12.1" fill="#000000">All</text>
<line x1="171.5" y1="923.3" x2="171.5" y2="943.5" stroke="#262626" stroke-width="1.3"/>
<rect x="162.4" y="927.9" width="18.2" height="11" fill="#8b0000" stroke="#262626" stroke-width="1.5"/>
<line x1="162.4" y1="933.4" x2="180.6" y2="933.4" stroke="#262626" stroke-width="1.7"/>
<text x="189.4" y="938" font-size="12.1" fill="#000000">Af</text>
<line x1="171.5" y1="947.2" x2="171.5" y2="967.4" stroke="#262626" stroke-width="1.3"/>
<rect x="162.4" y="951.8" width="18.2" height="11" fill="#ff0000" stroke="#262626" stroke-width="1.5"/>
<line x1="162.4" y1="957.3" x2="180.6" y2="957.3" stroke="#262626" stroke-width="1.7"/>
<text x="189.4" y="961.9" font-size="12.1" fill="#000000">Am</text>
<line x1="225.8" y1="899.4" x2="225.8" y2="919.6" stroke="#262626" stroke-width="1.3"/>
<rect x="216.7" y="904" width="18.2" height="11" fill="#f26d7d" stroke="#262626" stroke-width="1.5"/>
<line x1="216.7" y1="909.5" x2="234.9" y2="909.5" stroke="#262626" stroke-width="1.7"/>
<text x="243.7" y="914.1" font-size="12.1" fill="#000000">As</text>
<line x1="225.8" y1="923.3" x2="225.8" y2="943.5" stroke="#262626" stroke-width="1.3"/>
<rect x="216.7" y="927.9" width="18.2" height="11" fill="#ffe4e1" stroke="#262626" stroke-width="1.5"/>
<line x1="216.7" y1="933.4" x2="234.9" y2="933.4" stroke="#262626" stroke-width="1.7"/>
<text x="243.7" y="938" font-size="12.1" fill="#000000">Aw</text>
<line x1="225.8" y1="947.2" x2="225.8" y2="967.4" stroke="#262626" stroke-width="1.3"/>
<rect x="216.7" y="951.8" width="18.2" height="11" fill="#f0e68c" stroke="#262626" stroke-width="1.5"/>
<line x1="216.7" y1="957.3" x2="234.9" y2="957.3" stroke="#262626" stroke-width="1.7"/>
<text x="243.7" y="961.9" font-size="12.1" fill="#000000">BWk</text>
<line x1="287.6" y1="899.4" x2="287.6" y2="919.6" stroke="#262626" stroke-width="1.3"/>
<rect x="278.5" y="904" width="18.2" height="11" fill="#ffa500" stroke="#262626" stroke-width="1.5"/>
<line x1="278.5" y1="909.5" x2="296.7" y2="909.5" stroke="#262626" stroke-width="1.7"/>
<text x="305.5" y="914.1" font-size="12.1" fill="#000000">BWh</text>
<line x1="287.6" y1="923.3" x2="287.6" y2="943.5" stroke="#262626" stroke-width="1.3"/>
<rect x="278.5" y="927.9" width="18.2" height="11" fill="#f4a460" stroke="#262626" stroke-width="1.5"/>
<line x1="278.5" y1="933.4" x2="296.7" y2="933.4" stroke="#262626" stroke-width="1.7"/>
<text x="305.5" y="938" font-size="12.1" fill="#000000">BSk</text>
<line x1="287.6" y1="947.2" x2="287.6" y2="967.4" stroke="#262626" stroke-width="1.3"/>
<rect x="278.5" y="951.8" width="18.2" height="11" fill="#ec874a" stroke="#262626" stroke-width="1.5"/>
<line x1="278.5" y1="957.3" x2="296.7" y2="957.3" stroke="#262626" stroke-width="1.7"/>
<text x="305.5" y="961.9" font-size="12.1" fill="#000000">BSh</text>
<line x1="349.5" y1="899.4" x2="349.5" y2="919.6" stroke="#262626" stroke-width="1.3"/>
<rect x="340.4" y="904" width="18.2" height="11" fill="#073b3a" stroke="#262626" stroke-width="1.5"/>
<line x1="340.4" y1="909.5" x2="358.6" y2="909.5" stroke="#262626" stroke-width="1.7"/>
<text x="367.4" y="914.1" font-size="12.1" fill="#000000">Cfa</text>
<line x1="349.5" y1="923.3" x2="349.5" y2="943.5" stroke="#262626" stroke-width="1.3"/>
<rect x="340.4" y="927.9" width="18.2" height="11" fill="#006400" stroke="#262626" stroke-width="1.5"/>
<line x1="340.4" y1="933.4" x2="358.6" y2="933.4" stroke="#262626" stroke-width="1.7"/>
<text x="367.4" y="938" font-size="12.1" fill="#000000">Cfb</text>
<line x1="349.5" y1="947.2" x2="349.5" y2="967.4" stroke="#262626" stroke-width="1.3"/>
<rect x="340.4" y="951.8" width="18.2" height="11" fill="#35b515" stroke="#262626" stroke-width="1.5"/>
<line x1="340.4" y1="957.3" x2="358.6" y2="957.3" stroke="#262626" stroke-width="1.7"/>
<text x="367.4" y="961.9" font-size="12.1" fill="#000000">Csa</text>
<line x1="407.3" y1="899.4" x2="407.3" y2="919.6" stroke="#262626" stroke-width="1.3"/>
<rect x="398.2" y="904" width="18.2" height="11" fill="#9acd32" stroke="#262626" stroke-width="1.5"/>
<line x1="398.2" y1="909.5" x2="416.4" y2="909.5" stroke="#262626" stroke-width="1.7"/>
<text x="425.2" y="914.1" font-size="12.1" fill="#000000">Csb</text>
<line x1="407.3" y1="923.3" x2="407.3" y2="943.5" stroke="#262626" stroke-width="1.3"/>
<rect x="398.2" y="927.9" width="18.2" height="11" fill="#8b5d4b" stroke="#262626" stroke-width="1.5"/>
<line x1="398.2" y1="933.4" x2="416.4" y2="933.4" stroke="#262626" stroke-width="1.7"/>
<text x="425.2" y="938" font-size="12.1" fill="#000000">Cwa</text>
<line x1="407.3" y1="947.2" x2="407.3" y2="967.4" stroke="#262626" stroke-width="1.3"/>
<rect x="398.2" y="951.8" width="18.2" height="11" fill="#51362f" stroke="#262626" stroke-width="1.5"/>
<line x1="398.2" y1="957.3" x2="416.4" y2="957.3" stroke="#262626" stroke-width="1.7"/>
<text x="425.2" y="961.9" font-size="12.1" fill="#000000">Cwb</text>
<line x1="467.1" y1="899.4" x2="467.1" y2="919.6" stroke="#262626" stroke-width="1.3"/>
<rect x="458" y="904" width="18.2" height="11" fill="#4c1a8c" stroke="#262626" stroke-width="1.5"/>
<line x1="458" y1="909.5" x2="476.2" y2="909.5" stroke="#262626" stroke-width="1.7"/>
<text x="485" y="914.1" font-size="12.1" fill="#000000">Dfa</text>
<line x1="467.1" y1="923.3" x2="467.1" y2="943.5" stroke="#262626" stroke-width="1.3"/>
<rect x="458" y="927.9" width="18.2" height="11" fill="#8b008b" stroke="#262626" stroke-width="1.5"/>
<line x1="458" y1="933.4" x2="476.2" y2="933.4" stroke="#262626" stroke-width="1.7"/>
<text x="485" y="938" font-size="12.1" fill="#000000">Dfb</text>
<line x1="467.1" y1="947.2" x2="467.1" y2="967.4" stroke="#262626" stroke-width="1.3"/>
<rect x="458" y="951.8" width="18.2" height="11" fill="#ec6cec" stroke="#262626" stroke-width="1.5"/>
<line x1="458" y1="957.3" x2="476.2" y2="957.3" stroke="#262626" stroke-width="1.7"/>
<text x="485" y="961.9" font-size="12.1" fill="#000000">Dfc</text>
<line x1="522" y1="899.4" x2="522" y2="919.6" stroke="#262626" stroke-width="1.3"/>
<rect x="512.9" y="904" width="18.2" height="11" fill="#ffc0cb" stroke="#262626" stroke-width="1.5"/>
<line x1="512.9" y1="909.5" x2="531.1" y2="909.5" stroke="#262626" stroke-width="1.7"/>
<text x="539.9" y="914.1" font-size="12.1" fill="#000000">Dsb</text>
<line x1="522" y1="923.3" x2="522" y2="943.5" stroke="#262626" stroke-width="1.3"/>
<rect x="512.9" y="927.9" width="18.2" height="11" fill="#8b7b8b" stroke="#262626" stroke-width="1.5"/>
<line x1="512.9" y1="933.4" x2="531.1" y2="933.4" stroke="#262626" stroke-width="1.7"/>
<text x="539.9" y="938" font-size="12.1" fill="#000000">Dwb</text>
<line x1="522" y1="947.2" x2="522" y2="967.4" stroke="#262626" stroke-width="1.3"/>
<rect x="512.9" y="951.8" width="18.2" height="11" fill="#1b2386" stroke="#262626" stroke-width="1.5"/>
<line x1="512.9" y1="957.3" x2="531.1" y2="957.3" stroke="#262626" stroke-width="1.7"/>
<text x="539.9" y="961.9" font-size="12.1" fill="#000000">Dwc</text>
<line x1="582.4" y1="899.4" x2="582.4" y2="919.6" stroke="#262626" stroke-width="1.3"/>
<rect x="573.3" y="904" width="18.2" height="11" fill="#98f5ff" stroke="#262626" stroke-width="1.5"/>
<line x1="573.3" y1="909.5" x2="591.5" y2="909.5" stroke="#262626" stroke-width="1.7"/>
<text x="600.3" y="914.1" font-size="12.1" fill="#000000">ET</text>
</svg>
</body></html>
